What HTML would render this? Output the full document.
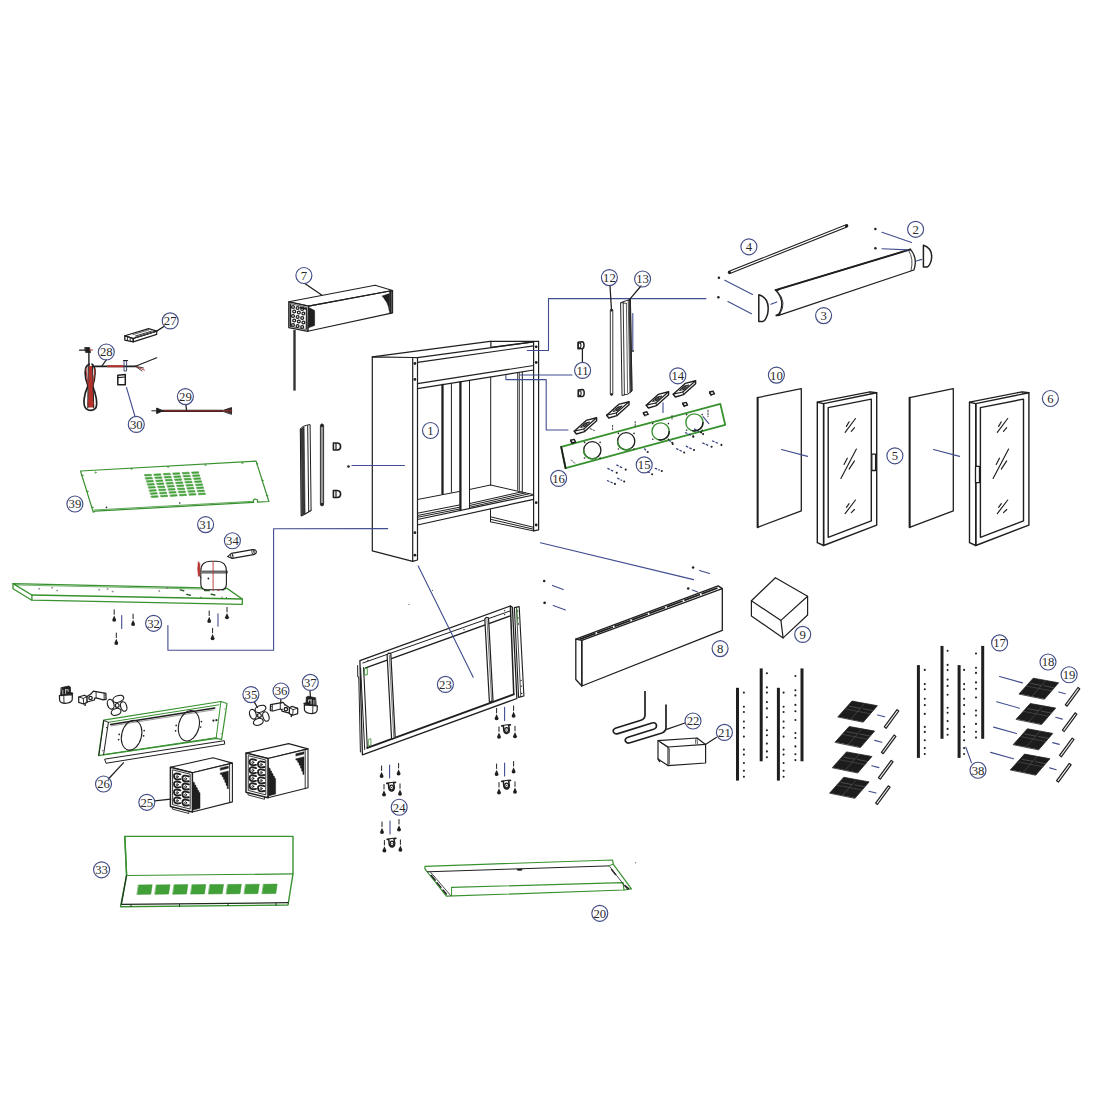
<!DOCTYPE html>
<html><head><meta charset="utf-8"><title>Exploded parts diagram</title>
<style>
html,body{margin:0;padding:0;background:#fff;}
body{width:1100px;height:1100px;overflow:hidden;font-family:"Liberation Serif",serif;}
svg{display:block;font-family:"Liberation Serif",serif;}
</style></head><body>
<svg width="1100" height="1100" viewBox="0 0 1100 1100" stroke-linecap="round" stroke-linejoin="round">
<rect width="1100" height="1100" fill="#fff"/>
<g id="cabinet">
<path d="M372.3 356.8 L412.7 357.5 L412.7 561.4 L372.3 550.9 Z" stroke="#1f1f1f" stroke-width="1.2" fill="none" />
<path d="M412.7 357.5 L417.5 357.7 L417.5 560.0 L412.7 561.4" stroke="#1f1f1f" stroke-width="1.2" fill="none" />
<path d="M372.3 356.8 L490.0 341.4 L538.6 341.4" stroke="#1f1f1f" stroke-width="1.2" fill="none" />
<line x1="417.5" y1="357.7" x2="533.6" y2="341.8" stroke="#1f1f1f" stroke-width="1.2" />
<line x1="490.9" y1="341.4" x2="490.9" y2="347.3" stroke="#1f1f1f" stroke-width="1.2" />
<line x1="490.9" y1="347.3" x2="533.6" y2="341.8" stroke="#1f1f1f" stroke-width="1.2" />
<line x1="417.5" y1="362.3" x2="533.6" y2="345.9" stroke="#1f1f1f" stroke-width="1.2" />
<line x1="417.5" y1="383.6" x2="533.6" y2="365.5" stroke="#1f1f1f" stroke-width="1.2" />
<line x1="417.5" y1="388.6" x2="533.6" y2="370.0" stroke="#1f1f1f" stroke-width="1.2" />
<path d="M533.6 341.4 L533.6 530.9 L538.6 529.8 L538.6 341.4" stroke="#1f1f1f" stroke-width="1.2" fill="none" />
<circle cx="414.9" cy="363.5" r="1.4" fill="#1f1f1f"/>
<circle cx="414.9" cy="379.4" r="1.4" fill="#1f1f1f"/>
<circle cx="414.9" cy="532.7" r="1.4" fill="#1f1f1f"/>
<circle cx="414.9" cy="555.2" r="1.4" fill="#1f1f1f"/>
<circle cx="536.2" cy="346.8" r="1.4" fill="#1f1f1f"/>
<circle cx="536.2" cy="362.5" r="1.4" fill="#1f1f1f"/>
<circle cx="536.2" cy="502.7" r="1.4" fill="#1f1f1f"/>
<circle cx="536.2" cy="525.0" r="1.4" fill="#1f1f1f"/>
<line x1="442.5" y1="385.0" x2="442.5" y2="494.0" stroke="#1f1f1f" stroke-width="2.3" />
<line x1="451.4" y1="383.6" x2="451.4" y2="492.3" stroke="#1f1f1f" stroke-width="1.0" />
<line x1="460.4" y1="382.2" x2="460.4" y2="510.0" stroke="#1f1f1f" stroke-width="2.3" />
<line x1="469.5" y1="380.8" x2="469.5" y2="508.5" stroke="#1f1f1f" stroke-width="1.0" />
<line x1="490.7" y1="377.0" x2="490.7" y2="485.0" stroke="#1f1f1f" stroke-width="1.0" />
<line x1="517.7" y1="373.0" x2="517.7" y2="490.0" stroke="#1f1f1f" stroke-width="0.9" />
<line x1="519.3" y1="372.8" x2="519.3" y2="490.5" stroke="#1f1f1f" stroke-width="0.9" />
<line x1="522.3" y1="372.3" x2="522.3" y2="492.0" stroke="#1f1f1f" stroke-width="1.0" />
<line x1="417.5" y1="499.5" x2="441.5" y2="494.9" stroke="#1f1f1f" stroke-width="1.0" />
<line x1="443.5" y1="494.5" x2="459.3" y2="491.5" stroke="#1f1f1f" stroke-width="1.0" />
<line x1="469.5" y1="489.5" x2="490.5" y2="485.0" stroke="#1f1f1f" stroke-width="1.0" />
<path d="M490.5 485.0 L522.7 492.3 L533.2 494.5" stroke="#1f1f1f" stroke-width="1.0" fill="none" />
<line x1="417.5" y1="513.2" x2="459.3" y2="505.0" stroke="#1f1f1f" stroke-width="1.0" />
<line x1="417.5" y1="515.5" x2="459.3" y2="507.3" stroke="#1f1f1f" stroke-width="1.0" />
<line x1="417.5" y1="517.3" x2="459.3" y2="509.1" stroke="#1f1f1f" stroke-width="1.0" />
<line x1="469.5" y1="503.6" x2="521.8" y2="491.8" stroke="#1f1f1f" stroke-width="1.0" />
<line x1="469.5" y1="505.5" x2="525.5" y2="492.8" stroke="#1f1f1f" stroke-width="1.0" />
<line x1="469.5" y1="507.3" x2="529.0" y2="493.8" stroke="#1f1f1f" stroke-width="1.0" />
<line x1="417.5" y1="519.5" x2="533.6" y2="495.0" stroke="#1f1f1f" stroke-width="1.2" />
<line x1="417.5" y1="525.0" x2="533.6" y2="499.3" stroke="#1f1f1f" stroke-width="1.2" />
<line x1="490.5" y1="509.3" x2="490.5" y2="521.8" stroke="#1f1f1f" stroke-width="1.0" />
<line x1="490.5" y1="516.8" x2="533.6" y2="527.3" stroke="#1f1f1f" stroke-width="1.0" />
<line x1="490.5" y1="519.3" x2="533.6" y2="529.2" stroke="#1f1f1f" stroke-width="1.0" />
<line x1="490.5" y1="521.8" x2="533.6" y2="530.9" stroke="#1f1f1f" stroke-width="1.0" />
</g>
<circle cx="430.5" cy="430.5" r="8.0" fill="none" stroke="#434c84" stroke-width="1.15"/>
<text transform="translate(430.5 434.9) scale(0.95 1)" x="0" y="0" text-anchor="middle" font-size="13.4" fill="#2a2a2a">1</text>
<g id="p7">
<path d="M288.8 301.8 L375.1 285.2 L392.6 290.5 L308.5 306.1 Z" stroke="#1f1f1f" stroke-width="1.1" fill="none" />
<path d="M308.5 306.1 L392.6 290.5 L392.6 312.9 L307.8 331.3 Z" stroke="#1f1f1f" stroke-width="1.1" fill="none" />
<path d="M288.8 301.8 L308.5 306.1 L307.8 331.3 L288.8 327.6 Z" stroke="#1f1f1f" stroke-width="1.3" fill="#fff" />
<line x1="389.8" y1="291.1" x2="389.8" y2="313.4" stroke="#1f1f1f" stroke-width="1.0" />
<path d="M308.8 307.6 L314.6 310.6 L314.6 325.4 L308.4 327.8 Z" stroke="#1f1f1f" stroke-width="0.6" fill="#1f1f1f" />
<path d="M382.2 296.0 L389.4 293.6 L389.4 311.0 L388.2 306.0 L386.8 302.6 L385.0 300.0 L383.6 297.8 Z" stroke="#1f1f1f" stroke-width="0.5" fill="#1f1f1f" />
<line x1="390.9" y1="291.2" x2="390.9" y2="313.0" stroke="#1f1f1f" stroke-width="1.7" />
<path d="M290.3 303.6 L306.9 307.3 L306.4 329.6 L290.3 326.4 Z" stroke="#1f1f1f" stroke-width="0.7" fill="none" />
<circle cx="293.0" cy="307.0" r="1.45" fill="none" stroke="#1f1f1f" stroke-width="1.25"/>
<circle cx="297.6" cy="308.0" r="1.45" fill="none" stroke="#1f1f1f" stroke-width="1.25"/>
<circle cx="302.2" cy="309.0" r="1.45" fill="none" stroke="#1f1f1f" stroke-width="1.25"/>
<circle cx="294.2" cy="311.5" r="1.45" fill="none" stroke="#1f1f1f" stroke-width="1.25"/>
<circle cx="298.8" cy="312.5" r="1.45" fill="none" stroke="#1f1f1f" stroke-width="1.25"/>
<circle cx="303.4" cy="313.5" r="1.45" fill="none" stroke="#1f1f1f" stroke-width="1.25"/>
<circle cx="293.0" cy="316.0" r="1.45" fill="none" stroke="#1f1f1f" stroke-width="1.25"/>
<circle cx="297.6" cy="317.0" r="1.45" fill="none" stroke="#1f1f1f" stroke-width="1.25"/>
<circle cx="302.2" cy="318.0" r="1.45" fill="none" stroke="#1f1f1f" stroke-width="1.25"/>
<circle cx="294.2" cy="320.5" r="1.45" fill="none" stroke="#1f1f1f" stroke-width="1.25"/>
<circle cx="298.8" cy="321.5" r="1.45" fill="none" stroke="#1f1f1f" stroke-width="1.25"/>
<circle cx="303.4" cy="322.5" r="1.45" fill="none" stroke="#1f1f1f" stroke-width="1.25"/>
<circle cx="293.0" cy="325.0" r="1.45" fill="none" stroke="#1f1f1f" stroke-width="1.25"/>
<circle cx="297.6" cy="326.0" r="1.45" fill="none" stroke="#1f1f1f" stroke-width="1.25"/>
<circle cx="302.2" cy="327.0" r="1.45" fill="none" stroke="#1f1f1f" stroke-width="1.25"/>
<line x1="300.5" y1="307.6" x2="305.8" y2="308.8" stroke="#1f1f1f" stroke-width="2.0" />
<line x1="290.6" y1="304.4" x2="290.6" y2="326.2" stroke="#1f1f1f" stroke-width="1.2" />
<line x1="306.4" y1="308.2" x2="306.2" y2="329.0" stroke="#1f1f1f" stroke-width="1.0" />
<line x1="294.5" y1="330.0" x2="294.5" y2="390.6" stroke="#333" stroke-width="2.4" stroke-linecap="butt"/>
<line x1="304.8" y1="283.6" x2="321.7" y2="295.1" stroke="#1f1f1f" stroke-width="1.25" />
</g>
<circle cx="303.9" cy="275.5" r="8.0" fill="none" stroke="#434c84" stroke-width="1.15"/>
<text transform="translate(303.9 279.9) scale(0.95 1)" x="0" y="0" text-anchor="middle" font-size="13.4" fill="#2a2a2a">7</text>
<path d="M124.8 335.7 L148.6 328.6 L156.7 331.1 L133.2 338.5 Z" stroke="#1f1f1f" stroke-width="1.2" fill="none" />
<path d="M124.8 335.7 L133.2 338.5 L133.2 341.9 L124.8 340.1 Z" stroke="#1f1f1f" stroke-width="1.3" fill="none" />
<line x1="127.4" y1="337.0" x2="127.4" y2="340.4" stroke="#1f1f1f" stroke-width="0.9" />
<line x1="130.2" y1="338.0" x2="130.2" y2="341.0" stroke="#1f1f1f" stroke-width="0.9" />
<path d="M133.2 338.5 L156.7 331.1 L156.7 334.4 L133.2 341.9 Z" stroke="#1f1f1f" stroke-width="1.2" fill="none" />
<line x1="135.5" y1="336.0" x2="151.5" y2="331.2" stroke="#1f1f1f" stroke-width="0.9" />
<line x1="136.5" y1="337.0" x2="153.5" y2="332.0" stroke="#444" stroke-width="1.3" />
<line x1="133.0" y1="334.6" x2="148.6" y2="330.0" stroke="#1f1f1f" stroke-width="0.7" />
<line x1="164.3" y1="326.2" x2="156.7" y2="331.1" stroke="#1f1f1f" stroke-width="1.25" />
<circle cx="170.2" cy="320.9" r="8.0" fill="none" stroke="#434c84" stroke-width="1.15"/>
<text transform="translate(170.2 325.3) scale(0.95 1)" x="0" y="0" text-anchor="middle" font-size="13.4" fill="#2a2a2a">27</text>
<g id="p28">
<line x1="79.5" y1="350.2" x2="86.0" y2="350.2" stroke="#1f1f1f" stroke-width="1.2" />
<path d="M85.0 347.5 L89.5 347.5 L90.5 352.5 L86.0 352.5 Z" stroke="#1f1f1f" stroke-width="0.8" fill="#1f1f1f" />
<line x1="89.5" y1="350.0" x2="92.5" y2="350.0" stroke="#b5322c" stroke-width="1.0" />
<line x1="88.9" y1="352.5" x2="88.9" y2="365.5" stroke="#1f1f1f" stroke-width="1.4" />
<path d="M88.4 366 L92.3 366 L92.9 386 L94.0 407.4 L88.0 407.4 L88.3 386 Z" fill="#b5322c" stroke="none"/>
<path d="M89.2 364.2 C83.4 366 84.6 378 88.0 386 C84.0 394 82.4 405 86.0 408.6 C89.0 411 93.2 411 95.6 408.2 C98.2 404 95.6 393 92.6 386 C95.2 378 96.6 367 92.0 364.2" stroke="#1f1f1f" stroke-width="1.7" fill="none"/>
<path d="M88.2 366 L87.8 408 M92.5 366 L93.8 408" stroke="#1f1f1f" stroke-width="1.0" fill="none"/>
<path d="M86.0 369 C86.6 380 89.6 392 93.6 404 M95.0 369 C94.4 380 91.0 392 87.6 404" stroke="#b5322c" stroke-width="1.0" fill="none"/>
<line x1="95.0" y1="366.3" x2="136.0" y2="366.3" stroke="#1f1f1f" stroke-width="1.7" />
<line x1="108.0" y1="366.3" x2="123.0" y2="366.3" stroke="#b5322c" stroke-width="1.9" />
<path d="M124.4 360.8 L126.6 360.8 L126.6 371.0 L124.4 371.0 Z" stroke="#2b3560" stroke-width="0.9" fill="none" />
<line x1="123.5" y1="360.5" x2="127.5" y2="360.5" stroke="#1f1f1f" stroke-width="1.2" />
<line x1="135.5" y1="366.3" x2="156.7" y2="357.8" stroke="#1f1f1f" stroke-width="1.2" />
<line x1="135.5" y1="366.3" x2="143.5" y2="368.0" stroke="#1f1f1f" stroke-width="0.9" />
<line x1="135.5" y1="366.3" x2="144.5" y2="370.2" stroke="#b5322c" stroke-width="0.9" />
<line x1="135.5" y1="366.3" x2="142.0" y2="371.0" stroke="#1f1f1f" stroke-width="0.8" />
<line x1="106.3" y1="359.9" x2="101.9" y2="366.0" stroke="#1f1f1f" stroke-width="1.25" />
</g>
<circle cx="106.3" cy="352.0" r="8.0" fill="none" stroke="#434c84" stroke-width="1.15"/>
<text transform="translate(106.3 356.4) scale(0.95 1)" x="0" y="0" text-anchor="middle" font-size="13.4" fill="#2a2a2a">28</text>
<path d="M117.8 375.2 L125.3 374.5 L125.3 384.8 L117.8 384.8 Z" stroke="#1f1f1f" stroke-width="1.5" fill="none" />
<line x1="118.0" y1="377.6" x2="125.2" y2="377.0" stroke="#1f1f1f" stroke-width="1.1" />
<line x1="126.5" y1="387.6" x2="135.0" y2="416.5" stroke="#414d8e" stroke-width="1.1" />
<circle cx="136.3" cy="424.4" r="8.0" fill="none" stroke="#434c84" stroke-width="1.15"/>
<text transform="translate(136.3 428.8) scale(0.95 1)" x="0" y="0" text-anchor="middle" font-size="13.4" fill="#2a2a2a">30</text>
<line x1="151.8" y1="410.8" x2="158.0" y2="410.8" stroke="#1f1f1f" stroke-width="1.0" />
<path d="M157.0 408.2 L163.0 410.8 L157.0 413.4 Z" stroke="#1f1f1f" stroke-width="1.0" fill="#1f1f1f" />
<line x1="162.5" y1="410.8" x2="222.0" y2="410.8" stroke="#1f1f1f" stroke-width="2.2" />
<line x1="164.0" y1="410.8" x2="221.0" y2="410.8" stroke="#b5322c" stroke-width="0.9" />
<path d="M222.0 410.8 L231.5 407.6 L231.5 414.0 Z" stroke="#1f1f1f" stroke-width="0.9" fill="#4a2a2a" />
<line x1="222.0" y1="410.8" x2="232.0" y2="410.8" stroke="#b5322c" stroke-width="0.7" />
<line x1="185.9" y1="404.6" x2="186.5" y2="410.0" stroke="#1f1f1f" stroke-width="1.25" />
<circle cx="185.4" cy="396.6" r="8.0" fill="none" stroke="#434c84" stroke-width="1.15"/>
<text transform="translate(185.4 401.0) scale(0.95 1)" x="0" y="0" text-anchor="middle" font-size="13.4" fill="#2a2a2a">29</text>
<g id="p39">
<path d="M80.5 471.0 L256.1 461.1 L268.9 501.5 L257.6 502.1 L257.6 500.0 L255.0 499.0 L253.4 500.3 L253.6 502.4 L95.0 511.2 L93.3 512.2 Z" stroke="#38912f" stroke-width="1.2" fill="none" />
<path d="M94.0 510.0 L253.0 501.3" stroke="#38912f" stroke-width="0.8" fill="none" />
<path d="M144.6 474.6 l6.6 -0.37 l0.45 1.5 l-6.6 0.37 Z" fill="#45a83b" stroke="#38912f" stroke-width="0.5"/>
<path d="M154.0 474.1 l6.6 -0.37 l0.45 1.5 l-6.6 0.37 Z" fill="#45a83b" stroke="#38912f" stroke-width="0.5"/>
<path d="M163.5 473.5 l6.6 -0.37 l0.45 1.5 l-6.6 0.37 Z" fill="#45a83b" stroke="#38912f" stroke-width="0.5"/>
<path d="M172.9 473.0 l6.6 -0.37 l0.45 1.5 l-6.6 0.37 Z" fill="#45a83b" stroke="#38912f" stroke-width="0.5"/>
<path d="M182.4 472.5 l6.6 -0.37 l0.45 1.5 l-6.6 0.37 Z" fill="#45a83b" stroke="#38912f" stroke-width="0.5"/>
<path d="M191.8 472.0 l6.6 -0.37 l0.45 1.5 l-6.6 0.37 Z" fill="#45a83b" stroke="#38912f" stroke-width="0.5"/>
<path d="M145.5 477.7 l6.6 -0.37 l0.45 1.5 l-6.6 0.37 Z" fill="#45a83b" stroke="#38912f" stroke-width="0.5"/>
<path d="M155.0 477.1 l6.6 -0.37 l0.45 1.5 l-6.6 0.37 Z" fill="#45a83b" stroke="#38912f" stroke-width="0.5"/>
<path d="M164.4 476.6 l6.6 -0.37 l0.45 1.5 l-6.6 0.37 Z" fill="#45a83b" stroke="#38912f" stroke-width="0.5"/>
<path d="M173.9 476.1 l6.6 -0.37 l0.45 1.5 l-6.6 0.37 Z" fill="#45a83b" stroke="#38912f" stroke-width="0.5"/>
<path d="M183.3 475.5 l6.6 -0.37 l0.45 1.5 l-6.6 0.37 Z" fill="#45a83b" stroke="#38912f" stroke-width="0.5"/>
<path d="M192.8 475.0 l6.6 -0.37 l0.45 1.5 l-6.6 0.37 Z" fill="#45a83b" stroke="#38912f" stroke-width="0.5"/>
<path d="M146.5 480.7 l6.6 -0.37 l0.45 1.5 l-6.6 0.37 Z" fill="#45a83b" stroke="#38912f" stroke-width="0.5"/>
<path d="M155.9 480.2 l6.6 -0.37 l0.45 1.5 l-6.6 0.37 Z" fill="#45a83b" stroke="#38912f" stroke-width="0.5"/>
<path d="M165.4 479.6 l6.6 -0.37 l0.45 1.5 l-6.6 0.37 Z" fill="#45a83b" stroke="#38912f" stroke-width="0.5"/>
<path d="M174.8 479.1 l6.6 -0.37 l0.45 1.5 l-6.6 0.37 Z" fill="#45a83b" stroke="#38912f" stroke-width="0.5"/>
<path d="M184.3 478.6 l6.6 -0.37 l0.45 1.5 l-6.6 0.37 Z" fill="#45a83b" stroke="#38912f" stroke-width="0.5"/>
<path d="M193.8 478.1 l6.6 -0.37 l0.45 1.5 l-6.6 0.37 Z" fill="#45a83b" stroke="#38912f" stroke-width="0.5"/>
<path d="M147.4 483.8 l6.6 -0.37 l0.45 1.5 l-6.6 0.37 Z" fill="#45a83b" stroke="#38912f" stroke-width="0.5"/>
<path d="M156.9 483.2 l6.6 -0.37 l0.45 1.5 l-6.6 0.37 Z" fill="#45a83b" stroke="#38912f" stroke-width="0.5"/>
<path d="M166.3 482.7 l6.6 -0.37 l0.45 1.5 l-6.6 0.37 Z" fill="#45a83b" stroke="#38912f" stroke-width="0.5"/>
<path d="M175.8 482.2 l6.6 -0.37 l0.45 1.5 l-6.6 0.37 Z" fill="#45a83b" stroke="#38912f" stroke-width="0.5"/>
<path d="M185.2 481.6 l6.6 -0.37 l0.45 1.5 l-6.6 0.37 Z" fill="#45a83b" stroke="#38912f" stroke-width="0.5"/>
<path d="M194.7 481.1 l6.6 -0.37 l0.45 1.5 l-6.6 0.37 Z" fill="#45a83b" stroke="#38912f" stroke-width="0.5"/>
<path d="M148.4 486.8 l6.6 -0.37 l0.45 1.5 l-6.6 0.37 Z" fill="#45a83b" stroke="#38912f" stroke-width="0.5"/>
<path d="M157.8 486.3 l6.6 -0.37 l0.45 1.5 l-6.6 0.37 Z" fill="#45a83b" stroke="#38912f" stroke-width="0.5"/>
<path d="M167.3 485.7 l6.6 -0.37 l0.45 1.5 l-6.6 0.37 Z" fill="#45a83b" stroke="#38912f" stroke-width="0.5"/>
<path d="M176.8 485.2 l6.6 -0.37 l0.45 1.5 l-6.6 0.37 Z" fill="#45a83b" stroke="#38912f" stroke-width="0.5"/>
<path d="M186.2 484.7 l6.6 -0.37 l0.45 1.5 l-6.6 0.37 Z" fill="#45a83b" stroke="#38912f" stroke-width="0.5"/>
<path d="M195.7 484.2 l6.6 -0.37 l0.45 1.5 l-6.6 0.37 Z" fill="#45a83b" stroke="#38912f" stroke-width="0.5"/>
<path d="M149.3 489.9 l6.6 -0.37 l0.45 1.5 l-6.6 0.37 Z" fill="#45a83b" stroke="#38912f" stroke-width="0.5"/>
<path d="M158.8 489.3 l6.6 -0.37 l0.45 1.5 l-6.6 0.37 Z" fill="#45a83b" stroke="#38912f" stroke-width="0.5"/>
<path d="M168.2 488.8 l6.6 -0.37 l0.45 1.5 l-6.6 0.37 Z" fill="#45a83b" stroke="#38912f" stroke-width="0.5"/>
<path d="M177.7 488.3 l6.6 -0.37 l0.45 1.5 l-6.6 0.37 Z" fill="#45a83b" stroke="#38912f" stroke-width="0.5"/>
<path d="M187.1 487.7 l6.6 -0.37 l0.45 1.5 l-6.6 0.37 Z" fill="#45a83b" stroke="#38912f" stroke-width="0.5"/>
<path d="M196.6 487.2 l6.6 -0.37 l0.45 1.5 l-6.6 0.37 Z" fill="#45a83b" stroke="#38912f" stroke-width="0.5"/>
<path d="M150.3 492.9 l6.6 -0.37 l0.45 1.5 l-6.6 0.37 Z" fill="#45a83b" stroke="#38912f" stroke-width="0.5"/>
<path d="M159.7 492.4 l6.6 -0.37 l0.45 1.5 l-6.6 0.37 Z" fill="#45a83b" stroke="#38912f" stroke-width="0.5"/>
<path d="M169.2 491.8 l6.6 -0.37 l0.45 1.5 l-6.6 0.37 Z" fill="#45a83b" stroke="#38912f" stroke-width="0.5"/>
<path d="M178.6 491.3 l6.6 -0.37 l0.45 1.5 l-6.6 0.37 Z" fill="#45a83b" stroke="#38912f" stroke-width="0.5"/>
<path d="M188.1 490.8 l6.6 -0.37 l0.45 1.5 l-6.6 0.37 Z" fill="#45a83b" stroke="#38912f" stroke-width="0.5"/>
<path d="M197.5 490.3 l6.6 -0.37 l0.45 1.5 l-6.6 0.37 Z" fill="#45a83b" stroke="#38912f" stroke-width="0.5"/>
<path d="M151.2 496.0 l6.6 -0.37 l0.45 1.5 l-6.6 0.37 Z" fill="#45a83b" stroke="#38912f" stroke-width="0.5"/>
<path d="M160.7 495.4 l6.6 -0.37 l0.45 1.5 l-6.6 0.37 Z" fill="#45a83b" stroke="#38912f" stroke-width="0.5"/>
<path d="M170.2 494.9 l6.6 -0.37 l0.45 1.5 l-6.6 0.37 Z" fill="#45a83b" stroke="#38912f" stroke-width="0.5"/>
<path d="M179.6 494.4 l6.6 -0.37 l0.45 1.5 l-6.6 0.37 Z" fill="#45a83b" stroke="#38912f" stroke-width="0.5"/>
<path d="M189.0 493.8 l6.6 -0.37 l0.45 1.5 l-6.6 0.37 Z" fill="#45a83b" stroke="#38912f" stroke-width="0.5"/>
<path d="M198.5 493.3 l6.6 -0.37 l0.45 1.5 l-6.6 0.37 Z" fill="#45a83b" stroke="#38912f" stroke-width="0.5"/>
<circle cx="95.5" cy="472.5" r="0.7" fill="none" stroke="#38912f" stroke-width="0.6"/>
<circle cx="131.5" cy="468.8" r="0.7" fill="none" stroke="#38912f" stroke-width="0.6"/>
<circle cx="168.0" cy="466.9" r="0.7" fill="none" stroke="#38912f" stroke-width="0.6"/>
<circle cx="205.3" cy="465.0" r="0.7" fill="none" stroke="#38912f" stroke-width="0.6"/>
<circle cx="242.3" cy="463.0" r="0.7" fill="none" stroke="#38912f" stroke-width="0.6"/>
<circle cx="257.0" cy="463.8" r="0.7" fill="none" stroke="#38912f" stroke-width="0.6"/>
<circle cx="262.5" cy="480.5" r="0.7" fill="none" stroke="#38912f" stroke-width="0.6"/>
<circle cx="267.0" cy="495.5" r="0.7" fill="none" stroke="#38912f" stroke-width="0.6"/>
<circle cx="82.3" cy="475.5" r="0.7" fill="none" stroke="#38912f" stroke-width="0.6"/>
<circle cx="87.5" cy="491.5" r="0.7" fill="none" stroke="#38912f" stroke-width="0.6"/>
<circle cx="92.5" cy="507.5" r="0.7" fill="none" stroke="#38912f" stroke-width="0.6"/>
<circle cx="106.5" cy="507.4" r="0.8" fill="#1f1f1f"/>
<circle cx="179.7" cy="503.0" r="0.8" fill="#1f1f1f"/>
</g>
<circle cx="74.9" cy="504.0" r="8.0" fill="none" stroke="#434c84" stroke-width="1.15"/>
<text transform="translate(74.9 508.4) scale(0.95 1)" x="0" y="0" text-anchor="middle" font-size="13.4" fill="#2a2a2a">39</text>
<circle cx="205.6" cy="524.6" r="8.0" fill="none" stroke="#434c84" stroke-width="1.15"/>
<text transform="translate(205.6 529.0) scale(0.95 1)" x="0" y="0" text-anchor="middle" font-size="13.4" fill="#2a2a2a">31</text>
<g id="base">
<path d="M13.0 583.6 L227.0 588.4 L242.3 599.0 L31.9 595.0 Z" stroke="#38912f" stroke-width="1.3" fill="none" />
<path d="M31.9 595.0 L31.9 600.2 L242.3 604.4 L242.3 599.0" stroke="#38912f" stroke-width="1.3" fill="none" />
<path d="M13.0 583.6 L13.0 588.8 L31.9 600.2" stroke="#38912f" stroke-width="1.3" fill="none" />
<path d="M15.5 585.0 L225.5 589.6" stroke="#38912f" stroke-width="0.7" fill="none" />
<circle cx="39" cy="588.8" r="0.6" fill="none" stroke="#666" stroke-width="0.5"/>
<circle cx="52" cy="587.8" r="0.6" fill="none" stroke="#666" stroke-width="0.5"/>
<circle cx="57" cy="590.6" r="0.6" fill="none" stroke="#666" stroke-width="0.5"/>
<circle cx="99" cy="589.8" r="0.6" fill="none" stroke="#666" stroke-width="0.5"/>
<circle cx="107.5" cy="589.0" r="0.6" fill="none" stroke="#666" stroke-width="0.5"/>
<circle cx="112.5" cy="591.5" r="0.6" fill="none" stroke="#666" stroke-width="0.5"/>
<circle cx="159" cy="591.0" r="0.6" fill="none" stroke="#666" stroke-width="0.5"/>
<circle cx="167" cy="588.0" r="0.6" fill="none" stroke="#666" stroke-width="0.5"/>
<line x1="180.2" y1="589.9" x2="183.8" y2="590.7" stroke="#2a5a25" stroke-width="1.4" />
<line x1="186.7" y1="594.4" x2="190.3" y2="595.2" stroke="#2a5a25" stroke-width="1.4" />
<line x1="211.2" y1="594.2" x2="214.8" y2="595.0" stroke="#2a5a25" stroke-width="1.4" />
<circle cx="201.0" cy="597.2" r="0.6" fill="#2a5a25"/>
<circle cx="222.0" cy="597.2" r="0.6" fill="#2a5a25"/>
<circle cx="226.5" cy="597.5" r="0.6" fill="#2a5a25"/>
</g>
<line x1="114.2" y1="609.8" x2="114.2" y2="614.3" stroke="#1f1f1f" stroke-width="1.0" />
<path d="M114.2 615.5 L116.1 619.7 Q116.4 621.7 114.2 621.7 Q112.0 621.7 112.3 619.7 Z" fill="#1f1f1f"/>
<line x1="133.1" y1="614.1" x2="133.1" y2="618.6" stroke="#1f1f1f" stroke-width="1.0" />
<path d="M133.1 619.8 L135.0 624.0 Q135.3 626.0 133.1 626.0 Q130.9 626.0 131.2 624.0 Z" fill="#1f1f1f"/>
<line x1="116.3" y1="633.0" x2="116.3" y2="637.5" stroke="#1f1f1f" stroke-width="1.0" />
<path d="M116.3 638.7 L118.2 642.9 Q118.5 644.9 116.3 644.9 Q114.1 644.9 114.4 642.9 Z" fill="#1f1f1f"/>
<line x1="209.2" y1="611.0" x2="209.2" y2="615.5" stroke="#1f1f1f" stroke-width="1.0" />
<path d="M209.2 616.7 L211.1 620.9 Q211.4 622.9 209.2 622.9 Q207.0 622.9 207.3 620.9 Z" fill="#1f1f1f"/>
<line x1="227.0" y1="607.4" x2="227.0" y2="611.9" stroke="#1f1f1f" stroke-width="1.0" />
<path d="M227.0 613.1 L228.9 617.3 Q229.2 619.3 227.0 619.3 Q224.8 619.3 225.1 617.3 Z" fill="#1f1f1f"/>
<line x1="212.6" y1="628.3" x2="212.6" y2="632.8" stroke="#1f1f1f" stroke-width="1.0" />
<path d="M212.6 634.0 L214.5 638.2 Q214.8 640.2 212.6 640.2 Q210.4 640.2 210.7 638.2 Z" fill="#1f1f1f"/>
<line x1="121.7" y1="615.6" x2="121.7" y2="628.4" stroke="#414d8e" stroke-width="1.1" />
<line x1="218.0" y1="613.8" x2="218.0" y2="626.3" stroke="#414d8e" stroke-width="1.1" />
<circle cx="153.6" cy="623.3" r="8.0" fill="none" stroke="#434c84" stroke-width="1.15"/>
<text transform="translate(153.6 627.7) scale(0.95 1)" x="0" y="0" text-anchor="middle" font-size="13.4" fill="#2a2a2a">32</text>
<path d="M167.9 625.5 L167.9 650.2 L273.6 650.2 L273.6 528.7 L387.7 528.6" stroke="#414d8e" stroke-width="1.1" fill="none" />
<g id="comp">
<path d="M200.8 571 Q200.8 561.2 211 561.2 L216.5 561.2 Q226.4 561.2 226.4 571 L226.4 584 Q226.4 589.8 220 589.8 L207 589.8 Q200.8 589.8 200.8 584 Z" fill="#fff" stroke="#1f1f1f" stroke-width="1.1"/>
<line x1="201.8" y1="571.2" x2="227.0" y2="571.2" stroke="#1f1f1f" stroke-width="1.0" />
<line x1="201.8" y1="572.9" x2="227.0" y2="572.9" stroke="#1f1f1f" stroke-width="1.0" />
<line x1="227.0" y1="571.2" x2="227.0" y2="572.9" stroke="#1f1f1f" stroke-width="0.8" />
<line x1="213.1" y1="561.4" x2="213.1" y2="590.6" stroke="#b5322c" stroke-width="0.9" />
<path d="M198.2 561.8 Q197.0 569 198.4 576.6 L199.9 575.5 L199.9 563.5 Z" fill="#b5322c" stroke="#b5322c" stroke-width="0.5"/>
<line x1="199.6" y1="575.5" x2="201.0" y2="578.0" stroke="#1f1f1f" stroke-width="0.7" />
<circle cx="208.4" cy="578.5" r="0.9" fill="#1f1f1f"/>
<line x1="204.5" y1="590.6" x2="209.5" y2="590.6" stroke="#2a5a25" stroke-width="1.3" />
<line x1="217.5" y1="590.2" x2="219.5" y2="590.2" stroke="#b5322c" stroke-width="1.0" />
<line x1="222.0" y1="589.9" x2="223.5" y2="589.9" stroke="#1f1f1f" stroke-width="1.0" />
</g>
<path d="M227.6 556.6 L231.4 553.4 L252.6 549.6 Q256.0 549.4 256.4 551.6 Q256.6 553.8 253.4 554.6 L232.2 558.4 Z" fill="#fff" stroke="#1f1f1f" stroke-width="1.1"/>
<ellipse cx="231.8" cy="555.9" rx="1.1" ry="2.5" fill="none" stroke="#1f1f1f" stroke-width="0.8" transform="rotate(-10 231.8 555.9)"/>
<ellipse cx="253.0" cy="552.1" rx="1.1" ry="2.5" fill="none" stroke="#1f1f1f" stroke-width="0.8" transform="rotate(-10 253.0 552.1)"/>
<circle cx="232.4" cy="540.7" r="8.0" fill="none" stroke="#434c84" stroke-width="1.15"/>
<text transform="translate(232.4 545.1) scale(0.95 1)" x="0" y="0" text-anchor="middle" font-size="13.4" fill="#2a2a2a">34</text>
<line x1="351.9" y1="465.5" x2="404.5" y2="465.5" stroke="#414d8e" stroke-width="1.1" />
<circle cx="348.5" cy="466.5" r="1.3" fill="#1f1f1f"/>
<path d="M300.5 428.6 Q302.5 425.6 310.1 424.6 L311.1 510.7 L301.5 515.9 Z" fill="#fff" stroke="#1f1f1f" stroke-width="1.0"/>
<path d="M300.8 429.1 L304.1 427.1 L305.1 514.1 L301.8 515.6 Z" fill="#3a3a3a" stroke="#1f1f1f" stroke-width="0.6"/>
<line x1="307.7" y1="425.6" x2="308.7" y2="511.6" stroke="#1f1f1f" stroke-width="1.0" />
<line x1="305.1" y1="514.1" x2="311.1" y2="510.1" stroke="#1f1f1f" stroke-width="0.9" />
<rect x="320.4" y="424.2" width="3.2" height="81.6" rx="1.4" fill="#9a9a9a" stroke="#1f1f1f" stroke-width="0.9"/>
<rect x="320.6" y="424.3" width="2.8" height="2.6" rx="1" fill="#1f1f1f"/><rect x="320.6" y="503.0" width="2.8" height="2.6" rx="1" fill="#1f1f1f"/>
<path d="M333.4 443.0 L337.4 443.0 Q340.6 443.3 340.6 446.5 Q340.6 449.7 337.4 450.0 L333.4 450.0 Z" fill="#fff" stroke="#1f1f1f" stroke-width="1.6"/>
<line x1="336.0" y1="443.5" x2="336.0" y2="449.5" stroke="#1f1f1f" stroke-width="1.2" />
<path d="M333.4 490.5 L337.4 490.5 Q340.6 490.8 340.6 494.0 Q340.6 497.2 337.4 497.5 L333.4 497.5 Z" fill="#fff" stroke="#1f1f1f" stroke-width="1.6"/>
<line x1="336.0" y1="491.0" x2="336.0" y2="497.0" stroke="#1f1f1f" stroke-width="1.2" />
<path d="M61.4 687.6 L68.8 686.0 L70.4 687.0 L70.6 692.6 L73.0 693.0 L72.2 694.6 L60.8 695.8 Z" fill="#1f1f1f" stroke="#1f1f1f" stroke-width="0.8"/>
<path d="M62.8 690.1 l0 4 M65.6 689.4 l0 4.4 M65.6 690.0 l2.6 -0.4 l0 2" stroke="#fff" stroke-width="0.7" fill="none"/>
<path d="M59.4 695.6 L72.4 694.6 L72.2 700.1 Q70.8 703.2 65.3 703.4 Q60.2 703.4 59.6 700.2 Z" fill="#fff" stroke="#1f1f1f" stroke-width="1.2"/>
<line x1="63.8" y1="696.0" x2="64.0" y2="702.8" stroke="#1f1f1f" stroke-width="0.9" />
<path d="M78.7 697.0 L84.3 695.2 L87.1 696.6 L87.1 702.4 L83.7 704.0 L78.7 702.4 Z" stroke="#1f1f1f" stroke-width="1.2" fill="#fff" />
<path d="M78.7 697.0 L83.3 698.4 L87.1 696.6" stroke="#1f1f1f" stroke-width="0.9" fill="none" />
<line x1="83.3" y1="698.4" x2="83.7" y2="704.0" stroke="#1f1f1f" stroke-width="0.9" />
<path d="M87.1 696.4 L91.5 693.4 L94.5 694.6 L94.5 700.0 L87.1 702.0 Z" stroke="#1f1f1f" stroke-width="1.2" fill="#fff" />
<circle cx="90.5" cy="698.0" r="1.7" fill="#fff" stroke="#1f1f1f" stroke-width="1.3"/>
<path d="M91.5 693.4 L93.3 691.2 L105.9 693.4 L106.1 699.4 L103.3 699.8 L96.1 697.8 L94.5 698.4" stroke="#1f1f1f" stroke-width="1.2" fill="#fff" />
<line x1="96.1" y1="692.2" x2="96.1" y2="697.8" stroke="#1f1f1f" stroke-width="0.9" />
<line x1="104.1" y1="693.2" x2="104.1" y2="699.6" stroke="#1f1f1f" stroke-width="0.9" />
<circle cx="105.0" cy="695.2" r="0.5" fill="#1f1f1f"/>
<circle cx="105.0" cy="697.8" r="0.5" fill="#1f1f1f"/>
<line x1="85.1" y1="703.8" x2="85.1" y2="705.4" stroke="#1f1f1f" stroke-width="1.4" />
<ellipse cx="118.3" cy="698.9" rx="5.6" ry="3.3" fill="#fff" stroke="#1f1f1f" stroke-width="1.2" transform="rotate(-18 118.3 698.9)"/>
<ellipse cx="123.7" cy="706.5" rx="4.9" ry="3.0" fill="#fff" stroke="#1f1f1f" stroke-width="1.2" transform="rotate(72 123.7 706.5)"/>
<ellipse cx="116.1" cy="711.9" rx="5.0" ry="3.3" fill="#fff" stroke="#1f1f1f" stroke-width="1.2" transform="rotate(162 116.1 711.9)"/>
<ellipse cx="110.7" cy="704.3" rx="5.0" ry="3.2" fill="#fff" stroke="#1f1f1f" stroke-width="1.2" transform="rotate(252 110.7 704.3)"/>
<circle cx="117.2" cy="705.4" r="1.9" fill="#fff" stroke="#1f1f1f" stroke-width="1.2"/>
<ellipse cx="260.5" cy="708.9" rx="5.6" ry="3.3" fill="#fff" stroke="#1f1f1f" stroke-width="1.2" transform="rotate(-18 260.5 708.9)"/>
<ellipse cx="265.9" cy="716.5" rx="4.9" ry="3.0" fill="#fff" stroke="#1f1f1f" stroke-width="1.2" transform="rotate(72 265.9 716.5)"/>
<ellipse cx="258.3" cy="721.9" rx="5.0" ry="3.3" fill="#fff" stroke="#1f1f1f" stroke-width="1.2" transform="rotate(162 258.3 721.9)"/>
<ellipse cx="252.9" cy="714.3" rx="5.0" ry="3.2" fill="#fff" stroke="#1f1f1f" stroke-width="1.2" transform="rotate(252 252.9 714.3)"/>
<circle cx="259.4" cy="715.4" r="1.9" fill="#fff" stroke="#1f1f1f" stroke-width="1.2"/>
<g transform="translate(568.2,0) scale(-1,1)">
<path d="M270.5 708.2 L276.1 706.4 L278.9 707.8 L278.9 713.6 L275.5 715.2 L270.5 713.6 Z" stroke="#1f1f1f" stroke-width="1.2" fill="#fff" />
<path d="M270.5 708.2 L275.1 709.6 L278.9 707.8" stroke="#1f1f1f" stroke-width="0.9" fill="none" />
<line x1="275.1" y1="709.6" x2="275.5" y2="715.2" stroke="#1f1f1f" stroke-width="0.9" />
<path d="M278.9 707.6 L283.3 704.6 L286.3 705.8 L286.3 711.2 L278.9 713.2 Z" stroke="#1f1f1f" stroke-width="1.2" fill="#fff" />
<circle cx="282.3" cy="709.2" r="1.7" fill="#fff" stroke="#1f1f1f" stroke-width="1.3"/>
<path d="M283.3 704.6 L285.1 702.4 L297.7 704.6 L297.9 710.6 L295.1 711.0 L287.9 709.0 L286.3 709.6" stroke="#1f1f1f" stroke-width="1.2" fill="#fff" />
<line x1="287.9" y1="703.4" x2="287.9" y2="709.0" stroke="#1f1f1f" stroke-width="0.9" />
<line x1="295.9" y1="704.4" x2="295.9" y2="710.8" stroke="#1f1f1f" stroke-width="0.9" />
<circle cx="296.8" cy="706.4" r="0.5" fill="#1f1f1f"/>
<circle cx="296.8" cy="709.0" r="0.5" fill="#1f1f1f"/>
<line x1="276.9" y1="715.0" x2="276.9" y2="716.6" stroke="#1f1f1f" stroke-width="1.4" />
</g>
<g transform="translate(621.0,0) scale(-1,1)">
<path d="M305.7 697.8 L313.1 696.2 L314.7 697.2 L314.9 702.8 L317.3 703.2 L316.5 704.8 L305.1 706.0 Z" fill="#1f1f1f" stroke="#1f1f1f" stroke-width="0.8"/>
<path d="M307.1 700.3 l0 4 M309.9 699.6 l0 4.4 M309.9 700.2 l2.6 -0.4 l0 2" stroke="#fff" stroke-width="0.7" fill="none"/>
<path d="M303.7 705.8 L316.7 704.8 L316.5 710.3 Q315.1 713.4 309.6 713.6 Q304.5 713.6 303.9 710.4 Z" fill="#fff" stroke="#1f1f1f" stroke-width="1.2"/>
<line x1="308.1" y1="706.2" x2="308.3" y2="713.0" stroke="#1f1f1f" stroke-width="0.9" />
</g>
<line x1="254.5" y1="702.4" x2="257.5" y2="707.5" stroke="#1f1f1f" stroke-width="1.25" />
<line x1="280.8" y1="699.4" x2="280.8" y2="703.0" stroke="#1f1f1f" stroke-width="1.25" />
<line x1="310.0" y1="690.8" x2="310.4" y2="696.6" stroke="#1f1f1f" stroke-width="1.25" />
<circle cx="250.9" cy="694.6" r="8.0" fill="none" stroke="#434c84" stroke-width="1.15"/>
<text transform="translate(250.9 699.0) scale(0.95 1)" x="0" y="0" text-anchor="middle" font-size="13.4" fill="#2a2a2a">35</text>
<circle cx="281.0" cy="691.0" r="8.0" fill="none" stroke="#434c84" stroke-width="1.15"/>
<text transform="translate(281.0 695.4) scale(0.95 1)" x="0" y="0" text-anchor="middle" font-size="13.4" fill="#2a2a2a">36</text>
<circle cx="310.3" cy="682.4" r="8.0" fill="none" stroke="#434c84" stroke-width="1.15"/>
<text transform="translate(310.3 686.8) scale(0.95 1)" x="0" y="0" text-anchor="middle" font-size="13.4" fill="#2a2a2a">37</text>
<g id="p26">
<path d="M103.6 720.2 L220.9 701.5 L227.0 703.5 L221.6 739.3 L216.1 738.4 L98.5 755.7 Z" stroke="#38912f" stroke-width="1.2" fill="none" />
<path d="M108.4 722.3 L218.9 704.8" stroke="#38912f" stroke-width="1.0" fill="none" />
<path d="M220.9 701.5 L216.1 738.4" stroke="#38912f" stroke-width="1.0" fill="none" />
<path d="M103.6 754.6 L216.6 737.6" stroke="#38912f" stroke-width="1.0" fill="none" />
<path d="M103.8 720.6 L98.9 755.2" stroke="#1f1f1f" stroke-width="1.0" fill="none" />
<path d="M108.4 722.3 L103.6 754.6" stroke="#1f1f1f" stroke-width="1.0" fill="none" />
<path d="M103.8 720.6 L108.4 722.3" stroke="#1f1f1f" stroke-width="0.9" fill="none" />
<circle cx="106.6" cy="727.6" r="0.6" fill="#1f1f1f"/>
<circle cx="102.8" cy="750.6" r="0.6" fill="#1f1f1f"/>
<circle cx="224.6" cy="709.0" r="0.5" fill="#38912f"/>
<circle cx="221.2" cy="733.6" r="0.5" fill="#38912f"/>
<line x1="110.6" y1="724.4" x2="214.8" y2="708.0" stroke="#1f1f1f" stroke-width="1.5" />
<line x1="111.0" y1="726.0" x2="214.0" y2="709.8" stroke="#555" stroke-width="0.6" />
<ellipse cx="131.6" cy="735.2" rx="9.9" ry="15.2" fill="none" stroke="#1f1f1f" stroke-width="1.1" transform="rotate(14 131.6 735.2)"/>
<ellipse cx="188.9" cy="725.7" rx="10.2" ry="15.5" fill="none" stroke="#1f1f1f" stroke-width="1.1" transform="rotate(14 188.9 725.7)"/>
<circle cx="119.2" cy="734.4" r="0.85" fill="#1f1f1f"/>
<circle cx="118.6" cy="739.6" r="0.85" fill="#1f1f1f"/>
<circle cx="144.2" cy="730.6" r="0.85" fill="#1f1f1f"/>
<circle cx="143.6" cy="735.8" r="0.85" fill="#1f1f1f"/>
<circle cx="176.2" cy="725.4" r="0.85" fill="#1f1f1f"/>
<circle cx="175.6" cy="730.8" r="0.85" fill="#1f1f1f"/>
<circle cx="201.4" cy="721.6" r="0.85" fill="#1f1f1f"/>
<circle cx="200.6" cy="727.0" r="0.85" fill="#1f1f1f"/>
<circle cx="213.4" cy="720.6" r="1.1" fill="#1f1f1f"/>
<circle cx="216.4" cy="720.2" r="1.1" fill="#1f1f1f"/>
<path d="M105.0 759.1 L224.3 740.7 L224.7 744.1 L106.4 763.2 Z" stroke="#1f1f1f" stroke-width="1.0" fill="#fff" />
<line x1="108.4" y1="779.0" x2="123.4" y2="762.8" stroke="#1f1f1f" stroke-width="1.25" />
</g>
<circle cx="103.5" cy="784.0" r="8.0" fill="none" stroke="#434c84" stroke-width="1.15"/>
<text transform="translate(103.5 788.4) scale(0.95 1)" x="0" y="0" text-anchor="middle" font-size="13.4" fill="#2a2a2a">26</text>
<path d="M170.4 767.3 L213.0 757.8 L232.4 763.1 L192.4 772.7 Z" stroke="#1f1f1f" stroke-width="1.1" fill="#fff" />
<path d="M192.4 772.7 L232.4 763.1 L232.4 801.9 L192.4 812.0 Z" stroke="#1f1f1f" stroke-width="1.1" fill="#fff" />
<path d="M170.4 767.3 L192.4 772.7 L192.4 812.0 L170.4 806.4 Z" stroke="#1f1f1f" stroke-width="1.5" fill="#fff" />
<path d="M173.0 769.9 L190.2 774.2 L190.2 809.1 L173.0 804.7 Z" stroke="#1f1f1f" stroke-width="0.9" fill="none" />
<path d="M180.4 774.3 Q173.6 771.9 174.0 776.5 Q174.4 780.5 180.4 779.1" fill="none" stroke="#1f1f1f" stroke-width="1.9"/>
<circle cx="177.2" cy="776.7" r="1.0" fill="none" stroke="#1f1f1f" stroke-width="0.9"/>
<path d="M188.8 776.4 Q182.0 774.0 182.4 778.6 Q182.8 782.6 188.8 781.2" fill="none" stroke="#1f1f1f" stroke-width="1.9"/>
<circle cx="185.6" cy="778.8" r="1.0" fill="none" stroke="#1f1f1f" stroke-width="0.9"/>
<path d="M180.4 782.3 Q173.6 779.9 174.0 784.5 Q174.4 788.5 180.4 787.1" fill="none" stroke="#1f1f1f" stroke-width="1.9"/>
<circle cx="177.2" cy="784.7" r="1.0" fill="none" stroke="#1f1f1f" stroke-width="0.9"/>
<path d="M188.8 784.4 Q182.0 782.0 182.4 786.6 Q182.8 790.6 188.8 789.2" fill="none" stroke="#1f1f1f" stroke-width="1.9"/>
<circle cx="185.6" cy="786.8" r="1.0" fill="none" stroke="#1f1f1f" stroke-width="0.9"/>
<path d="M180.4 790.3 Q173.6 787.9 174.0 792.5 Q174.4 796.5 180.4 795.1" fill="none" stroke="#1f1f1f" stroke-width="1.9"/>
<circle cx="177.2" cy="792.7" r="1.0" fill="none" stroke="#1f1f1f" stroke-width="0.9"/>
<path d="M188.8 792.4 Q182.0 790.0 182.4 794.6 Q182.8 798.6 188.8 797.2" fill="none" stroke="#1f1f1f" stroke-width="1.9"/>
<circle cx="185.6" cy="794.8" r="1.0" fill="none" stroke="#1f1f1f" stroke-width="0.9"/>
<path d="M180.4 798.3 Q173.6 795.9 174.0 800.5 Q174.4 804.5 180.4 803.1" fill="none" stroke="#1f1f1f" stroke-width="1.9"/>
<circle cx="177.2" cy="800.7" r="1.0" fill="none" stroke="#1f1f1f" stroke-width="0.9"/>
<path d="M188.8 800.4 Q182.0 798.0 182.4 802.6 Q182.8 806.6 188.8 805.2" fill="none" stroke="#1f1f1f" stroke-width="1.9"/>
<circle cx="185.6" cy="802.8" r="1.0" fill="none" stroke="#1f1f1f" stroke-width="0.9"/>
<path d="M172.4 807.1 L172.4 809.1 L188.9 813.5 L188.9 811.5" stroke="#1f1f1f" stroke-width="0.9" fill="none" />
<path d="M193.0 781.9 L194.6 782.7 L194.6 784.7 L196.0 785.3 L196.0 787.3 L197.4 787.9 L197.4 789.9 L198.8 790.5 L198.8 792.3 L200.0 792.7 L200.0 808.3 L193.0 810.1 Z" stroke="#1f1f1f" stroke-width="0.5" fill="#1f1f1f" />
<path d="M220.4 767.9 L228.4 765.9 L228.4 768.3 L220.4 770.3 Z" stroke="#1f1f1f" stroke-width="0.4" fill="#1f1f1f" />
<path d="M220.4 772.9 L228.4 770.9 L228.4 788.9 L227.2 788.5 L227.2 785.7 L226.0 785.3 L226.0 782.7 L224.8 782.3 L224.8 779.7 L223.4 779.3 L223.4 776.9 L222.0 776.5 L222.0 774.7 L220.4 774.3 Z" stroke="#1f1f1f" stroke-width="0.4" fill="#1f1f1f" />
<line x1="229.6" y1="763.9" x2="229.6" y2="802.6" stroke="#1f1f1f" stroke-width="0.9" />
<path d="M246.0 753.1 L288.6 743.6 L308.0 748.9 L268.0 758.5 Z" stroke="#1f1f1f" stroke-width="1.1" fill="#fff" />
<path d="M268.0 758.5 L308.0 748.9 L308.0 787.7 L268.0 797.8 Z" stroke="#1f1f1f" stroke-width="1.1" fill="#fff" />
<path d="M246.0 753.1 L268.0 758.5 L268.0 797.8 L246.0 792.2 Z" stroke="#1f1f1f" stroke-width="1.5" fill="#fff" />
<path d="M248.6 755.7 L265.8 760.0 L265.8 794.9 L248.6 790.5 Z" stroke="#1f1f1f" stroke-width="0.9" fill="none" />
<path d="M256.0 760.1 Q249.2 757.7 249.6 762.3 Q250.0 766.3 256.0 764.9" fill="none" stroke="#1f1f1f" stroke-width="1.9"/>
<circle cx="252.8" cy="762.5" r="1.0" fill="none" stroke="#1f1f1f" stroke-width="0.9"/>
<path d="M264.4 762.2 Q257.6 759.8 258.0 764.4 Q258.4 768.4 264.4 767.0" fill="none" stroke="#1f1f1f" stroke-width="1.9"/>
<circle cx="261.2" cy="764.6" r="1.0" fill="none" stroke="#1f1f1f" stroke-width="0.9"/>
<path d="M256.0 768.1 Q249.2 765.7 249.6 770.3 Q250.0 774.3 256.0 772.9" fill="none" stroke="#1f1f1f" stroke-width="1.9"/>
<circle cx="252.8" cy="770.5" r="1.0" fill="none" stroke="#1f1f1f" stroke-width="0.9"/>
<path d="M264.4 770.2 Q257.6 767.8 258.0 772.4 Q258.4 776.4 264.4 775.0" fill="none" stroke="#1f1f1f" stroke-width="1.9"/>
<circle cx="261.2" cy="772.6" r="1.0" fill="none" stroke="#1f1f1f" stroke-width="0.9"/>
<path d="M256.0 776.1 Q249.2 773.7 249.6 778.3 Q250.0 782.3 256.0 780.9" fill="none" stroke="#1f1f1f" stroke-width="1.9"/>
<circle cx="252.8" cy="778.5" r="1.0" fill="none" stroke="#1f1f1f" stroke-width="0.9"/>
<path d="M264.4 778.2 Q257.6 775.8 258.0 780.4 Q258.4 784.4 264.4 783.0" fill="none" stroke="#1f1f1f" stroke-width="1.9"/>
<circle cx="261.2" cy="780.6" r="1.0" fill="none" stroke="#1f1f1f" stroke-width="0.9"/>
<path d="M256.0 784.1 Q249.2 781.7 249.6 786.3 Q250.0 790.3 256.0 788.9" fill="none" stroke="#1f1f1f" stroke-width="1.9"/>
<circle cx="252.8" cy="786.5" r="1.0" fill="none" stroke="#1f1f1f" stroke-width="0.9"/>
<path d="M264.4 786.2 Q257.6 783.8 258.0 788.4 Q258.4 792.4 264.4 791.0" fill="none" stroke="#1f1f1f" stroke-width="1.9"/>
<circle cx="261.2" cy="788.6" r="1.0" fill="none" stroke="#1f1f1f" stroke-width="0.9"/>
<path d="M248.0 792.9 L248.0 794.9 L264.5 799.3 L264.5 797.3" stroke="#1f1f1f" stroke-width="0.9" fill="none" />
<path d="M268.6 767.7 L270.2 768.5 L270.2 770.5 L271.6 771.1 L271.6 773.1 L273.0 773.7 L273.0 775.7 L274.4 776.3 L274.4 778.1 L275.6 778.5 L275.6 794.1 L268.6 795.9 Z" stroke="#1f1f1f" stroke-width="0.5" fill="#1f1f1f" />
<path d="M296.0 753.7 L304.0 751.7 L304.0 754.1 L296.0 756.1 Z" stroke="#1f1f1f" stroke-width="0.4" fill="#1f1f1f" />
<path d="M296.0 758.7 L304.0 756.7 L304.0 774.7 L302.8 774.3 L302.8 771.5 L301.6 771.1 L301.6 768.5 L300.4 768.1 L300.4 765.5 L299.0 765.1 L299.0 762.7 L297.6 762.3 L297.6 760.5 L296.0 760.1 Z" stroke="#1f1f1f" stroke-width="0.4" fill="#1f1f1f" />
<line x1="305.2" y1="749.7" x2="305.2" y2="788.4" stroke="#1f1f1f" stroke-width="0.9" />
<line x1="154.8" y1="800.9" x2="170.6" y2="799.2" stroke="#1f1f1f" stroke-width="1.25" />
<circle cx="146.8" cy="802.3" r="8.0" fill="none" stroke="#434c84" stroke-width="1.15"/>
<text transform="translate(146.8 806.7) scale(0.95 1)" x="0" y="0" text-anchor="middle" font-size="13.4" fill="#2a2a2a">25</text>
<g id="p33">
<path d="M124.8 836.4 L293.0 836.4 L293.0 873.9 L288.0 905.0 L120.5 906.8 L126.6 875.5 Z" stroke="#38912f" stroke-width="1.4" fill="none" />
<line x1="124.8" y1="836.4" x2="126.6" y2="875.5" stroke="#38912f" stroke-width="1.4" />
<line x1="126.6" y1="875.5" x2="293.0" y2="873.9" stroke="#38912f" stroke-width="1.2" />
<line x1="126.4" y1="876.0" x2="121.4" y2="904.2" stroke="#1f3a1c" stroke-width="1.3" />
<line x1="121.4" y1="904.4" x2="288.2" y2="902.7" stroke="#1f2a1c" stroke-width="1.2" />
<line x1="131.0" y1="904.5" x2="131.0" y2="906.6" stroke="#1f3a1c" stroke-width="1.0" />
<line x1="179.5" y1="904.0" x2="179.5" y2="906.2" stroke="#1f3a1c" stroke-width="1.0" />
<line x1="228.0" y1="903.5" x2="228.0" y2="905.6" stroke="#1f3a1c" stroke-width="1.0" />
<line x1="276.0" y1="903.0" x2="276.0" y2="905.2" stroke="#1f3a1c" stroke-width="1.0" />
<path d="M138.6 885.0 l13.6 -0.2 l-1.4 9.4 l-13.6 0.2 Z" fill="#41a038" stroke="#38912f" stroke-width="0.5"/>
<path d="M156.4 884.9 l13.6 -0.2 l-1.4 9.4 l-13.6 0.2 Z" fill="#41a038" stroke="#38912f" stroke-width="0.5"/>
<path d="M174.3 884.8 l13.6 -0.2 l-1.4 9.4 l-13.6 0.2 Z" fill="#41a038" stroke="#38912f" stroke-width="0.5"/>
<path d="M192.2 884.7 l13.6 -0.2 l-1.4 9.4 l-13.6 0.2 Z" fill="#41a038" stroke="#38912f" stroke-width="0.5"/>
<path d="M210.0 884.6 l13.6 -0.2 l-1.4 9.4 l-13.6 0.2 Z" fill="#41a038" stroke="#38912f" stroke-width="0.5"/>
<path d="M227.8 884.5 l13.6 -0.2 l-1.4 9.4 l-13.6 0.2 Z" fill="#41a038" stroke="#38912f" stroke-width="0.5"/>
<path d="M245.7 884.4 l13.6 -0.2 l-1.4 9.4 l-13.6 0.2 Z" fill="#41a038" stroke="#38912f" stroke-width="0.5"/>
<path d="M263.6 884.3 l13.6 -0.2 l-1.4 9.4 l-13.6 0.2 Z" fill="#41a038" stroke="#38912f" stroke-width="0.5"/>
</g>
<circle cx="101.6" cy="869.8" r="8.0" fill="none" stroke="#434c84" stroke-width="1.15"/>
<text transform="translate(101.6 874.2) scale(0.95 1)" x="0" y="0" text-anchor="middle" font-size="13.4" fill="#2a2a2a">33</text>
<g id="p23">
<path d="M359.9 660.6 L510.4 606.0 L512.4 607.2 L516.9 698.5 L362.4 754.9 Z" stroke="#1f1f1f" stroke-width="1.3" fill="none" />
<line x1="362.8" y1="663.0" x2="510.0" y2="611.0" stroke="#1f1f1f" stroke-width="1.0" />
<line x1="365.6" y1="667.9" x2="510.4" y2="615.9" stroke="#1f1f1f" stroke-width="1.4" />
<line x1="360.6" y1="668.0" x2="364.7" y2="749.5" stroke="#1f1f1f" stroke-width="1.0" />
<line x1="363.6" y1="667.6" x2="367.3" y2="747.9" stroke="#1f1f1f" stroke-width="1.1" />
<line x1="510.4" y1="606.0" x2="513.8" y2="694.4" stroke="#1f1f1f" stroke-width="1.5" />
<path d="M514.4 607.6 L519.2 606.6 L523.9 696.0 L518.6 697.4 Z" stroke="#1f1f1f" stroke-width="1.1" fill="none" />
<line x1="516.4" y1="607.4" x2="520.8" y2="696.8" stroke="#1f1f1f" stroke-width="0.8" />
<circle cx="517.6" cy="611.0" r="0.7" fill="#1f1f1f"/>
<circle cx="518.0" cy="618.0" r="0.7" fill="#1f1f1f"/>
<circle cx="518.4" cy="624.0" r="0.7" fill="#1f1f1f"/>
<circle cx="521.0" cy="680.5" r="0.7" fill="#1f1f1f"/>
<circle cx="521.2" cy="686.2" r="0.7" fill="#1f1f1f"/>
<circle cx="521.6" cy="693.4" r="0.7" fill="#1f1f1f"/>
<path d="M517.0 609.2 L517.8 622.6" stroke="#38912f" stroke-width="0.8" fill="none" />
<path d="M357.6 665.6 L357.8 677.0 L358.8 677.0 L360.4 752.0" stroke="#1f1f1f" stroke-width="1.0" fill="none" />
<line x1="367.3" y1="747.9" x2="513.6" y2="694.4" stroke="#1f1f1f" stroke-width="2.0" />
<path d="M387.1 654.8 L388.6 653.2 L390.8 653.6 L395.2 737.7 L391.6 739.1 Z" stroke="#1f1f1f" stroke-width="1.2" fill="#fff" />
<line x1="389.3" y1="655.2" x2="393.8" y2="737.6" stroke="#1f1f1f" stroke-width="0.6" />
<path d="M484.8 619.0 L486.3 617.4 L488.5 617.8 L493.0 700.7 L489.4 702.1 Z" stroke="#1f1f1f" stroke-width="1.2" fill="#fff" />
<line x1="487.0" y1="619.4" x2="491.6" y2="700.6" stroke="#1f1f1f" stroke-width="0.6" />
<path d="M364.8 668.4 L367.2 668.0 L367.4 674.6 L365.0 675.0 Z" stroke="#38912f" stroke-width="0.9" fill="none" />
<path d="M368.6 739.4 L370.8 738.6 L371.0 745.0 L368.8 745.8 Z" stroke="#38912f" stroke-width="0.8" fill="none" />
<circle cx="368.0" cy="660.4" r="0.7" fill="#1f1f1f"/>
<circle cx="464.0" cy="629.6" r="0.7" fill="#1f1f1f"/>
<circle cx="504.6" cy="610.6" r="0.7" fill="#1f1f1f"/>
<circle cx="504.6" cy="614.6" r="0.7" fill="#1f1f1f"/>
</g>
<circle cx="445.4" cy="684.4" r="8.0" fill="none" stroke="#434c84" stroke-width="1.15"/>
<text transform="translate(445.4 688.8) scale(0.95 1)" x="0" y="0" text-anchor="middle" font-size="13.4" fill="#2a2a2a">23</text>
<line x1="418.2" y1="566.0" x2="473.2" y2="677.3" stroke="#414d8e" stroke-width="1.1" />
<circle cx="409.0" cy="604.4" r="0.5" fill="#1f1f1f"/>
<circle cx="432.6" cy="590.4" r="0.5" fill="#1f1f1f"/>
<path d="M501.8 725.8 L510.4 724.8" stroke="#1f1f1f" stroke-width="1.7" fill="none"/>
<path d="M503.4 725.8 L503.8 730.6 Q504.4 733.8 507.2 733.4 Q509.8 732.6 509.2 728.8 L508.6 725.2" stroke="#1f1f1f" stroke-width="1.5" fill="#fff"/>
<ellipse cx="506.6" cy="730.0" rx="1.9" ry="2.4" fill="#fff" stroke="#1f1f1f" stroke-width="1.3"/>
<circle cx="506.6" cy="730.0" r="0.6" fill="#1f1f1f"/>
<line x1="496.6" y1="708.4" x2="496.6" y2="712.9" stroke="#1f1f1f" stroke-width="1.0" />
<path d="M496.6 714.1 L498.5 718.3 Q498.8 720.3 496.6 720.3 Q494.4 720.3 494.7 718.3 Z" fill="#1f1f1f"/>
<line x1="513.6" y1="705.9" x2="513.6" y2="710.4" stroke="#1f1f1f" stroke-width="1.0" />
<path d="M513.6 711.6 L515.5 715.8 Q515.8 717.8 513.6 717.8 Q511.4 717.8 511.7 715.8 Z" fill="#1f1f1f"/>
<line x1="499.0" y1="726.9" x2="499.0" y2="731.4" stroke="#1f1f1f" stroke-width="1.0" />
<path d="M499.0 732.6 L500.9 736.8 Q501.2 738.8 499.0 738.8 Q496.8 738.8 497.1 736.8 Z" fill="#1f1f1f"/>
<line x1="515.0" y1="726.3" x2="515.0" y2="730.8" stroke="#1f1f1f" stroke-width="1.0" />
<path d="M515.0 732.0 L516.9 736.2 Q517.2 738.2 515.0 738.2 Q512.8 738.2 513.1 736.2 Z" fill="#1f1f1f"/>
<line x1="504.6" y1="707.4" x2="504.6" y2="720.4" stroke="#414d8e" stroke-width="1.1" />
<path d="M501.8 781.4 L510.4 780.4" stroke="#1f1f1f" stroke-width="1.7" fill="none"/>
<path d="M503.4 781.4 L503.8 786.2 Q504.4 789.4 507.2 789.0 Q509.8 788.2 509.2 784.4 L508.6 780.8" stroke="#1f1f1f" stroke-width="1.5" fill="#fff"/>
<ellipse cx="506.6" cy="785.6" rx="1.9" ry="2.4" fill="#fff" stroke="#1f1f1f" stroke-width="1.3"/>
<circle cx="506.6" cy="785.6" r="0.6" fill="#1f1f1f"/>
<line x1="496.6" y1="764.0" x2="496.6" y2="768.5" stroke="#1f1f1f" stroke-width="1.0" />
<path d="M496.6 769.7 L498.5 773.9 Q498.8 775.9 496.6 775.9 Q494.4 775.9 494.7 773.9 Z" fill="#1f1f1f"/>
<line x1="513.6" y1="761.5" x2="513.6" y2="766.0" stroke="#1f1f1f" stroke-width="1.0" />
<path d="M513.6 767.2 L515.5 771.4 Q515.8 773.4 513.6 773.4 Q511.4 773.4 511.7 771.4 Z" fill="#1f1f1f"/>
<line x1="499.0" y1="782.5" x2="499.0" y2="787.0" stroke="#1f1f1f" stroke-width="1.0" />
<path d="M499.0 788.2 L500.9 792.4 Q501.2 794.4 499.0 794.4 Q496.8 794.4 497.1 792.4 Z" fill="#1f1f1f"/>
<line x1="515.0" y1="781.9" x2="515.0" y2="786.4" stroke="#1f1f1f" stroke-width="1.0" />
<path d="M515.0 787.6 L516.9 791.8 Q517.2 793.8 515.0 793.8 Q512.8 793.8 513.1 791.8 Z" fill="#1f1f1f"/>
<line x1="504.6" y1="763.0" x2="504.6" y2="776.0" stroke="#414d8e" stroke-width="1.1" />
<path d="M386.8 783.4 L395.4 782.4" stroke="#1f1f1f" stroke-width="1.7" fill="none"/>
<path d="M388.4 783.4 L388.8 788.2 Q389.4 791.4 392.2 791.0 Q394.8 790.2 394.2 786.4 L393.6 782.8" stroke="#1f1f1f" stroke-width="1.5" fill="#fff"/>
<ellipse cx="391.6" cy="787.6" rx="1.9" ry="2.4" fill="#fff" stroke="#1f1f1f" stroke-width="1.3"/>
<circle cx="391.6" cy="787.6" r="0.6" fill="#1f1f1f"/>
<line x1="381.6" y1="766.0" x2="381.6" y2="770.5" stroke="#1f1f1f" stroke-width="1.0" />
<path d="M381.6 771.7 L383.5 775.9 Q383.8 777.9 381.6 777.9 Q379.4 777.9 379.7 775.9 Z" fill="#1f1f1f"/>
<line x1="398.6" y1="763.5" x2="398.6" y2="768.0" stroke="#1f1f1f" stroke-width="1.0" />
<path d="M398.6 769.2 L400.5 773.4 Q400.8 775.4 398.6 775.4 Q396.4 775.4 396.7 773.4 Z" fill="#1f1f1f"/>
<line x1="384.0" y1="784.5" x2="384.0" y2="789.0" stroke="#1f1f1f" stroke-width="1.0" />
<path d="M384.0 790.2 L385.9 794.4 Q386.2 796.4 384.0 796.4 Q381.8 796.4 382.1 794.4 Z" fill="#1f1f1f"/>
<line x1="400.0" y1="783.9" x2="400.0" y2="788.4" stroke="#1f1f1f" stroke-width="1.0" />
<path d="M400.0 789.6 L401.9 793.8 Q402.2 795.8 400.0 795.8 Q397.8 795.8 398.1 793.8 Z" fill="#1f1f1f"/>
<line x1="389.6" y1="765.0" x2="389.6" y2="778.0" stroke="#414d8e" stroke-width="1.1" />
<path d="M387.2 839.4 L395.8 838.4" stroke="#1f1f1f" stroke-width="1.7" fill="none"/>
<path d="M388.8 839.4 L389.2 844.2 Q389.8 847.4 392.6 847.0 Q395.2 846.2 394.6 842.4 L394.0 838.8" stroke="#1f1f1f" stroke-width="1.5" fill="#fff"/>
<ellipse cx="392.0" cy="843.6" rx="1.9" ry="2.4" fill="#fff" stroke="#1f1f1f" stroke-width="1.3"/>
<circle cx="392.0" cy="843.6" r="0.6" fill="#1f1f1f"/>
<line x1="382.0" y1="822.0" x2="382.0" y2="826.5" stroke="#1f1f1f" stroke-width="1.0" />
<path d="M382.0 827.7 L383.9 831.9 Q384.2 833.9 382.0 833.9 Q379.8 833.9 380.1 831.9 Z" fill="#1f1f1f"/>
<line x1="399.0" y1="819.5" x2="399.0" y2="824.0" stroke="#1f1f1f" stroke-width="1.0" />
<path d="M399.0 825.2 L400.9 829.4 Q401.2 831.4 399.0 831.4 Q396.8 831.4 397.1 829.4 Z" fill="#1f1f1f"/>
<line x1="384.4" y1="840.5" x2="384.4" y2="845.0" stroke="#1f1f1f" stroke-width="1.0" />
<path d="M384.4 846.2 L386.3 850.4 Q386.6 852.4 384.4 852.4 Q382.2 852.4 382.5 850.4 Z" fill="#1f1f1f"/>
<line x1="400.4" y1="839.9" x2="400.4" y2="844.4" stroke="#1f1f1f" stroke-width="1.0" />
<path d="M400.4 845.6 L402.3 849.8 Q402.6 851.8 400.4 851.8 Q398.2 851.8 398.5 849.8 Z" fill="#1f1f1f"/>
<line x1="390.0" y1="821.0" x2="390.0" y2="834.0" stroke="#414d8e" stroke-width="1.1" />
<circle cx="399.2" cy="807.2" r="8.0" fill="none" stroke="#434c84" stroke-width="1.15"/>
<text transform="translate(399.2 811.6) scale(0.95 1)" x="0" y="0" text-anchor="middle" font-size="13.4" fill="#2a2a2a">24</text>
<g id="p20">
<path d="M425.0 866.3 L612.6 860.0 L613.2 864.2 L631.4 888.9 L624.0 890.0 L446.4 896.2 L425.0 869.0 Z" stroke="#38912f" stroke-width="1.2" fill="none" />
<path d="M425.0 869.0 L427.5 871.8" stroke="#38912f" stroke-width="1.0" fill="none" />
<line x1="427.5" y1="871.8" x2="608.4" y2="865.9" stroke="#1f1f1f" stroke-width="1.0" />
<path d="M608.4 865.9 L613.2 864.2" stroke="#38912f" stroke-width="1.0" fill="none" />
<path d="M451.6 887.4 L623.0 882.6 L624.0 890.0" stroke="#38912f" stroke-width="1.2" fill="none" />
<path d="M451.6 887.4 L451.6 895.8" stroke="#38912f" stroke-width="1.0" fill="none" />
<path d="M430.6 872.2 L450.6 895.4" stroke="#1f1f1f" stroke-width="0.8" fill="none" />
<path d="M609.6 866.4 L627.6 889.6" stroke="#1f1f1f" stroke-width="0.8" fill="none" />
<path d="M431.2 875.2 L435.2 880.2" stroke="#1f1f1f" stroke-width="1.4" fill="none" />
<path d="M437.0 882.6 L441.0 887.4" stroke="#1f1f1f" stroke-width="1.4" fill="none" />
<path d="M443.0 890.0 L446.4 894.0" stroke="#1f1f1f" stroke-width="1.4" fill="none" />
<path d="M611.6 869.6 L615.6 874.6" stroke="#1f1f1f" stroke-width="1.4" fill="none" />
<path d="M625.0 885.6 L628.6 888.6" stroke="#1f1f1f" stroke-width="1.4" fill="none" />
<ellipse cx="519.6" cy="869.8" rx="3.0" ry="1.0" fill="#1f1f1f"/>
<circle cx="635.6" cy="862.8" r="0.5" fill="#1f1f1f"/>
</g>
<circle cx="599.8" cy="913.3" r="8.0" fill="none" stroke="#434c84" stroke-width="1.15"/>
<text transform="translate(599.8 917.7) scale(0.95 1)" x="0" y="0" text-anchor="middle" font-size="13.4" fill="#2a2a2a">20</text>
<path d="M527.3 350.5 L548.5 350.5 L548.5 298.6 L706.0 298.6" stroke="#414d8e" stroke-width="1.1" fill="none" />
<path d="M520.5 375.0 L572.0 375.0" stroke="#414d8e" stroke-width="1.1" fill="none" />
<path d="M505.9 375.5 L505.9 379.6 L546.2 379.6 L546.2 430.0 L568.0 430.0" stroke="#414d8e" stroke-width="1.1" fill="none" />
<line x1="540.4" y1="542.8" x2="693.6" y2="579.6" stroke="#414d8e" stroke-width="1.1" />
<path d="M578.0 342.2 L582.2 341.8 Q584.0 342.0 584.0 345.2 Q584.0 348.4 582.2 348.6 L578.0 348.8 Z" fill="#fff" stroke="#1f1f1f" stroke-width="1.5"/>
<ellipse cx="579.6" cy="345.5" rx="1.3" ry="2.6" fill="none" stroke="#1f1f1f" stroke-width="1.1"/>
<path d="M578.2 390.0 L582.4 389.6 Q584.2 389.8 584.2 393.0 Q584.2 396.2 582.4 396.4 L578.2 396.6 Z" fill="#fff" stroke="#1f1f1f" stroke-width="1.5"/>
<ellipse cx="579.8" cy="393.3" rx="1.3" ry="2.6" fill="none" stroke="#1f1f1f" stroke-width="1.1"/>
<line x1="582.4" y1="349.2" x2="582.4" y2="362.2" stroke="#1f1f1f" stroke-width="1.25" />
<circle cx="582.6" cy="370.4" r="8.0" fill="none" stroke="#434c84" stroke-width="1.15"/>
<text transform="translate(582.6 374.8) scale(0.95 1)" x="0" y="0" text-anchor="middle" font-size="13.4" fill="#2a2a2a">11</text>
<rect x="610.3" y="309.2" width="2.5" height="86.0" rx="1.1" fill="#fff" stroke="#1f1f1f" stroke-width="0.9"/>
<rect x="610.3" y="309.0" width="2.5" height="2.4" rx="1" fill="#1f1f1f"/><rect x="610.3" y="393.2" width="2.5" height="2.4" rx="1" fill="#1f1f1f"/>
<line x1="610.0" y1="285.8" x2="611.4" y2="308.6" stroke="#1f1f1f" stroke-width="1.25" />
<circle cx="609.4" cy="277.6" r="8.0" fill="none" stroke="#434c84" stroke-width="1.15"/>
<text transform="translate(609.4 282.0) scale(0.95 1)" x="0" y="0" text-anchor="middle" font-size="13.4" fill="#2a2a2a">12</text>
<path d="M621.0 302.6 L626.4 300.6 L630.4 299.6 L632.0 391.0 L628.0 394.0 L622.4 395.4 Z" fill="#fff" stroke="#1f1f1f" stroke-width="1.0"/>
<path d="M628.6 300.1 L630.4 299.6 L632.0 391.0 L630.2 392.4 Z" fill="#3a3a3a" stroke="#1f1f1f" stroke-width="0.7"/>
<line x1="623.2" y1="302.4" x2="624.4" y2="394.6" stroke="#1f1f1f" stroke-width="0.9" />
<line x1="621.0" y1="302.6" x2="626.4" y2="303.4" stroke="#1f1f1f" stroke-width="0.8" />
<line x1="626.4" y1="303.4" x2="627.6" y2="392.6" stroke="#1f1f1f" stroke-width="0.7" />
<line x1="641.0" y1="286.0" x2="629.4" y2="299.6" stroke="#1f1f1f" stroke-width="1.25" />
<circle cx="642.6" cy="279.0" r="8.0" fill="none" stroke="#434c84" stroke-width="1.15"/>
<text transform="translate(642.6 283.4) scale(0.95 1)" x="0" y="0" text-anchor="middle" font-size="13.4" fill="#2a2a2a">13</text>
<line x1="632.8" y1="313.5" x2="632.8" y2="350.0" stroke="#414d8e" stroke-width="1.1" />
<circle cx="633.0" cy="351.0" r="0.9" fill="#1f1f1f"/>
<g id="p16">
<path d="M561.2 446.9 L720.3 403.9 L725.2 424.8 L565.6 468.2 Z" stroke="#38912f" stroke-width="1.8" fill="none" />
<line x1="561.2" y1="446.9" x2="565.6" y2="468.2" stroke="#1f1f1f" stroke-width="1.8" />
<circle cx="592.3" cy="450.2" r="8.6" fill="none" stroke="#1f1f1f" stroke-width="1.35"/>
<path d="M583.7 450.2 A8.6 8.6 0 0 0 596.6 457.6" fill="none" stroke="#38912f" stroke-width="1.4"/>
<circle cx="600.1" cy="458.0" r="0.8" fill="#222"/>
<circle cx="584.5" cy="458.0" r="0.8" fill="#222"/>
<circle cx="584.5" cy="442.4" r="0.8" fill="#222"/>
<circle cx="600.1" cy="442.4" r="0.8" fill="#222"/>
<circle cx="626.2" cy="441.2" r="8.6" fill="none" stroke="#1f1f1f" stroke-width="1.35"/>
<path d="M617.6 441.2 A8.6 8.6 0 0 0 630.5 448.6" fill="none" stroke="#38912f" stroke-width="1.4"/>
<circle cx="634.0" cy="449.0" r="0.8" fill="#222"/>
<circle cx="618.4" cy="449.0" r="0.8" fill="#222"/>
<circle cx="618.4" cy="433.4" r="0.8" fill="#222"/>
<circle cx="634.0" cy="433.4" r="0.8" fill="#222"/>
<circle cx="660.6" cy="431.4" r="8.6" fill="none" stroke="#38912f" stroke-width="1.35"/>
<path d="M658.9 439.8 A8.6 8.6 0 0 0 669.2 431.4" fill="none" stroke="#1f1f1f" stroke-width="1.4"/>
<circle cx="668.4" cy="439.2" r="0.8" fill="#222"/>
<circle cx="652.8" cy="439.2" r="0.8" fill="#222"/>
<circle cx="652.8" cy="423.6" r="0.8" fill="#222"/>
<circle cx="668.4" cy="423.6" r="0.8" fill="#222"/>
<circle cx="694.4" cy="422.4" r="8.6" fill="none" stroke="#38912f" stroke-width="1.35"/>
<path d="M692.7 430.8 A8.6 8.6 0 0 0 703.0 422.4" fill="none" stroke="#1f1f1f" stroke-width="1.4"/>
<circle cx="702.2" cy="430.2" r="0.8" fill="#222"/>
<circle cx="686.6" cy="430.2" r="0.8" fill="#222"/>
<circle cx="686.6" cy="414.6" r="0.8" fill="#222"/>
<circle cx="702.2" cy="414.6" r="0.8" fill="#222"/>
</g>
<circle cx="558.6" cy="478.4" r="8.0" fill="none" stroke="#434c84" stroke-width="1.15"/>
<text transform="translate(558.6 482.8) scale(0.95 1)" x="0" y="0" text-anchor="middle" font-size="13.4" fill="#2a2a2a">16</text>
<circle cx="644.2" cy="464.9" r="8.0" fill="none" stroke="#434c84" stroke-width="1.15"/>
<text transform="translate(644.2 469.3) scale(0.95 1)" x="0" y="0" text-anchor="middle" font-size="13.4" fill="#2a2a2a">15</text>
<path d="M574.2 431.2 L586.2 420.4 L596.6 417.8 L596.6 420.8 L584.6 431.6 L576.4 434.0 Z" stroke="#1f1f1f" stroke-width="1.4" fill="#fff" />
<path d="M574.2 431.2 L583.8 429.0 L596.6 417.8" stroke="#1f1f1f" stroke-width="1.2" fill="none" />
<line x1="583.8" y1="429.0" x2="584.6" y2="431.6" stroke="#1f1f1f" stroke-width="1.0" />
<path d="M580.8 427.2 L585.6 423.0 L589.8 422.0 L585.2 426.2 Z" stroke="#1f1f1f" stroke-width="1.0" fill="none" />
<ellipse cx="585.2" cy="424.8" rx="2.0" ry="1.2" fill="#555" stroke="#1f1f1f" stroke-width="0.9" transform="rotate(-35 585.2 424.8)"/>
<path d="M606.6 415.2 L618.6 404.4 L629.0 401.8 L629.0 404.8 L617.0 415.6 L608.8 418.0 Z" stroke="#1f1f1f" stroke-width="1.4" fill="#fff" />
<path d="M606.6 415.2 L616.2 413.0 L629.0 401.8" stroke="#1f1f1f" stroke-width="1.2" fill="none" />
<line x1="616.2" y1="413.0" x2="617.0" y2="415.6" stroke="#1f1f1f" stroke-width="1.0" />
<path d="M613.2 411.2 L618.0 407.0 L622.2 406.0 L617.6 410.2 Z" stroke="#1f1f1f" stroke-width="1.0" fill="none" />
<ellipse cx="617.6" cy="408.8" rx="2.0" ry="1.2" fill="#555" stroke="#1f1f1f" stroke-width="0.9" transform="rotate(-35 617.6 408.8)"/>
<path d="M646.2 405.2 L658.2 394.4 L668.6 391.8 L668.6 394.8 L656.6 405.6 L648.4 408.0 Z" stroke="#1f1f1f" stroke-width="1.4" fill="#fff" />
<path d="M646.2 405.2 L655.8 403.0 L668.6 391.8" stroke="#1f1f1f" stroke-width="1.2" fill="none" />
<line x1="655.8" y1="403.0" x2="656.6" y2="405.6" stroke="#1f1f1f" stroke-width="1.0" />
<path d="M652.8 401.2 L657.6 397.0 L661.8 396.0 L657.2 400.2 Z" stroke="#1f1f1f" stroke-width="1.0" fill="none" />
<ellipse cx="657.2" cy="398.8" rx="2.0" ry="1.2" fill="#555" stroke="#1f1f1f" stroke-width="0.9" transform="rotate(-35 657.2 398.8)"/>
<path d="M673.2 394.2 L685.2 383.4 L695.6 380.8 L695.6 383.8 L683.6 394.6 L675.4 397.0 Z" stroke="#1f1f1f" stroke-width="1.4" fill="#fff" />
<path d="M673.2 394.2 L682.8 392.0 L695.6 380.8" stroke="#1f1f1f" stroke-width="1.2" fill="none" />
<line x1="682.8" y1="392.0" x2="683.6" y2="394.6" stroke="#1f1f1f" stroke-width="1.0" />
<path d="M679.8 390.2 L684.6 386.0 L688.8 385.0 L684.2 389.2 Z" stroke="#1f1f1f" stroke-width="1.0" fill="none" />
<ellipse cx="684.2" cy="387.8" rx="2.0" ry="1.2" fill="#555" stroke="#1f1f1f" stroke-width="0.9" transform="rotate(-35 684.2 387.8)"/>
<circle cx="677.8" cy="375.8" r="8.0" fill="none" stroke="#434c84" stroke-width="1.15"/>
<text transform="translate(677.8 380.2) scale(0.95 1)" x="0" y="0" text-anchor="middle" font-size="13.4" fill="#2a2a2a">14</text>
<path d="M570.8 440.2 L574.2 439.4 L575.6 442.0 L572.2 443.0 Z" stroke="#1f1f1f" stroke-width="1.4" fill="#fff" />
<line x1="570.8" y1="440.2" x2="571.0" y2="441.6" stroke="#1f1f1f" stroke-width="1.2" />
<line x1="571.0" y1="441.6" x2="572.2" y2="443.8" stroke="#1f1f1f" stroke-width="1.0" />
<path d="M643.4 412.6 L646.8 411.8 L648.2 414.4 L644.8 415.4 Z" stroke="#1f1f1f" stroke-width="1.4" fill="#fff" />
<line x1="643.4" y1="412.6" x2="643.6" y2="414.0" stroke="#1f1f1f" stroke-width="1.2" />
<line x1="643.6" y1="414.0" x2="644.8" y2="416.2" stroke="#1f1f1f" stroke-width="1.0" />
<path d="M682.8 403.2 L686.2 402.4 L687.6 405.0 L684.2 406.0 Z" stroke="#1f1f1f" stroke-width="1.4" fill="#fff" />
<line x1="682.8" y1="403.2" x2="683.0" y2="404.6" stroke="#1f1f1f" stroke-width="1.2" />
<line x1="683.0" y1="404.6" x2="684.2" y2="406.8" stroke="#1f1f1f" stroke-width="1.0" />
<path d="M709.6 392.0 L713.0 391.2 L714.4 393.8 L711.0 394.8 Z" stroke="#1f1f1f" stroke-width="1.4" fill="#fff" />
<line x1="709.6" y1="392.0" x2="709.8" y2="393.4" stroke="#1f1f1f" stroke-width="1.2" />
<line x1="709.8" y1="393.4" x2="711.0" y2="395.6" stroke="#1f1f1f" stroke-width="1.0" />
<line x1="607.4" y1="468.2" x2="613.9" y2="471.5" stroke="#2e3a78" stroke-width="1.2" stroke-dasharray="2.6 1.2" stroke-linecap="butt"/>
<circle cx="616.7" cy="472.8" r="1.05" fill="#1f1f1f"/>
<line x1="616.4" y1="464.9" x2="622.9" y2="468.2" stroke="#2e3a78" stroke-width="1.2" stroke-dasharray="2.6 1.2" stroke-linecap="butt"/>
<circle cx="625.7" cy="469.6" r="1.05" fill="#1f1f1f"/>
<line x1="607.0" y1="480.5" x2="612.6" y2="482.9" stroke="#2e3a78" stroke-width="1.2" stroke-dasharray="2.6 1.2" stroke-linecap="butt"/>
<circle cx="614.9" cy="483.9" r="1.05" fill="#1f1f1f"/>
<line x1="617.2" y1="478.0" x2="622.1" y2="480.5" stroke="#2e3a78" stroke-width="1.2" stroke-dasharray="2.6 1.2" stroke-linecap="butt"/>
<circle cx="624.2" cy="481.5" r="1.05" fill="#1f1f1f"/>
<line x1="644.2" y1="448.5" x2="646.6" y2="451.0" stroke="#2e3a78" stroke-width="1.2" stroke-dasharray="2.6 1.2" stroke-linecap="butt"/>
<circle cx="647.7" cy="452.0" r="1.05" fill="#1f1f1f"/>
<line x1="654.8" y1="468.2" x2="659.7" y2="470.1" stroke="#2e3a78" stroke-width="1.2" stroke-dasharray="2.6 1.2" stroke-linecap="butt"/>
<circle cx="661.8" cy="471.0" r="1.05" fill="#1f1f1f"/>
<line x1="647.5" y1="471.5" x2="650.7" y2="473.4" stroke="#2e3a78" stroke-width="1.2" stroke-dasharray="2.6 1.2" stroke-linecap="butt"/>
<circle cx="652.1" cy="474.2" r="1.05" fill="#1f1f1f"/>
<line x1="676.1" y1="448.5" x2="681.8" y2="451.3" stroke="#2e3a78" stroke-width="1.2" stroke-dasharray="2.6 1.2" stroke-linecap="butt"/>
<circle cx="684.2" cy="452.5" r="1.05" fill="#1f1f1f"/>
<line x1="685.9" y1="446.1" x2="691.6" y2="448.9" stroke="#2e3a78" stroke-width="1.2" stroke-dasharray="2.6 1.2" stroke-linecap="butt"/>
<circle cx="694.0" cy="450.0" r="1.05" fill="#1f1f1f"/>
<line x1="702.3" y1="442.8" x2="708.8" y2="445.6" stroke="#2e3a78" stroke-width="1.2" stroke-dasharray="2.6 1.2" stroke-linecap="butt"/>
<circle cx="711.6" cy="446.8" r="1.05" fill="#1f1f1f"/>
<line x1="712.1" y1="440.7" x2="718.6" y2="443.6" stroke="#2e3a78" stroke-width="1.2" stroke-dasharray="2.6 1.2" stroke-linecap="butt"/>
<circle cx="721.4" cy="444.9" r="1.05" fill="#1f1f1f"/>
<line x1="668.7" y1="440.0" x2="671.2" y2="442.0" stroke="#2e3a78" stroke-width="1.2" stroke-dasharray="2.6 1.2" stroke-linecap="butt"/>
<circle cx="672.2" cy="442.8" r="1.05" fill="#1f1f1f"/>
<line x1="685.1" y1="432.5" x2="690.8" y2="435.1" stroke="#2e3a78" stroke-width="1.2" stroke-dasharray="2.6 1.2" stroke-linecap="butt"/>
<circle cx="693.2" cy="436.2" r="1.05" fill="#1f1f1f"/>
<line x1="694.1" y1="428.9" x2="699.0" y2="431.4" stroke="#2e3a78" stroke-width="1.2" stroke-dasharray="2.6 1.2" stroke-linecap="butt"/>
<circle cx="701.1" cy="432.4" r="1.05" fill="#1f1f1f"/>
<line x1="612.6" y1="425.3" x2="612.6" y2="429.7" stroke="#333" stroke-width="0.9" stroke-dasharray="1.6 1.4"/>
<line x1="635.2" y1="421.5" x2="635.2" y2="426.5" stroke="#333" stroke-width="0.9" stroke-dasharray="1.6 1.4"/>
<line x1="672.0" y1="415.5" x2="672.0" y2="419.1" stroke="#333" stroke-width="0.9" stroke-dasharray="1.6 1.4"/>
<line x1="708.0" y1="410.1" x2="708.0" y2="416.6" stroke="#333" stroke-width="0.9" stroke-dasharray="1.6 1.4"/>
<line x1="571.4" y1="460.0" x2="575.5" y2="464.1" stroke="#333" stroke-width="0.9" stroke-dasharray="1.6 1.4"/>
<line x1="590.2" y1="428.6" x2="595.1" y2="430.9" stroke="#333" stroke-width="0.9" stroke-dasharray="1.6 1.4"/>
<line x1="663.0" y1="402.7" x2="663.0" y2="412.5" stroke="#414d8e" stroke-width="1.1" />
<line x1="703.1" y1="416.6" x2="708.8" y2="423.7" stroke="#414d8e" stroke-width="1.1" />
<circle cx="693.3" cy="436.8" r="1.05" fill="#1f1f1f"/>
<circle cx="703.1" cy="434.1" r="1.05" fill="#1f1f1f"/>
<circle cx="672.8" cy="444.0" r="1.05" fill="#1f1f1f"/>
<g id="canopy">
<path d="M729.5 272.4 L846.6 225.8" stroke="#1f1f1f" stroke-width="3.4" fill="none"/>
<path d="M730.8 271.9 L845.2 226.4" stroke="#fff" stroke-width="1.2" fill="none" stroke-linecap="butt"/>
<circle cx="846.4" cy="225.9" r="1.3" fill="#1f1f1f"/>
<path d="M775.6 290.1 L910.4 249.4 Q918.0 258.0 913.9 270.0 L778.0 315.6 Q786.6 302.0 775.6 290.1 Z" fill="#fff" stroke="#1f1f1f" stroke-width="1.3"/>
<path d="M775.6 290.1 L910.4 249.4" stroke="#1f1f1f" stroke-width="1.9" fill="none"/>
<path d="M777.6 291.6 Q787.6 302.6 779.6 314.4" stroke="#1f1f1f" stroke-width="0.9" fill="none"/>
<path d="M908.6 250.4 Q914.0 258.6 911.0 270.6" stroke="#1f1f1f" stroke-width="0.8" fill="none"/>
<line x1="775.6" y1="290.1" x2="778.6" y2="289.9" stroke="#1f1f1f" stroke-width="1.6" />
<line x1="776.4" y1="315.4" x2="779.6" y2="314.2" stroke="#1f1f1f" stroke-width="2.0" />
<path d="M758.8 294.8 Q770.6 298.0 767.6 314.0 Q765.6 320.6 763.0 321.4 L758.8 321.4 Z" fill="#fff" stroke="#1f1f1f" stroke-width="1.5"/>
<path d="M923.4 245.2 Q933.6 248.6 931.2 260.6 Q929.6 266.0 927.2 267.0 L923.4 267.0 Z" fill="#fff" stroke="#1f1f1f" stroke-width="1.5"/>
<circle cx="718.9" cy="277.8" r="1.25" fill="#1f1f1f"/>
<circle cx="718.4" cy="297.2" r="1.25" fill="#1f1f1f"/>
<circle cx="875.4" cy="229.1" r="1.25" fill="#1f1f1f"/>
<circle cx="875.4" cy="248.3" r="1.25" fill="#1f1f1f"/>
<line x1="724.8" y1="280.2" x2="752.5" y2="294.4" stroke="#414d8e" stroke-width="1.1" />
<line x1="727.9" y1="301.5" x2="751.5" y2="313.7" stroke="#414d8e" stroke-width="1.1" />
<line x1="882.0" y1="232.2" x2="911.6" y2="242.4" stroke="#414d8e" stroke-width="1.1" />
<line x1="882.0" y1="248.7" x2="908.0" y2="249.9" stroke="#414d8e" stroke-width="1.1" />
<line x1="770.9" y1="304.3" x2="776.8" y2="301.9" stroke="#414d8e" stroke-width="1.1" />
<line x1="916.3" y1="261.0" x2="921.7" y2="259.4" stroke="#414d8e" stroke-width="1.1" />
</g>
<circle cx="748.9" cy="246.8" r="8.0" fill="none" stroke="#434c84" stroke-width="1.15"/>
<text transform="translate(748.9 251.2) scale(0.95 1)" x="0" y="0" text-anchor="middle" font-size="13.4" fill="#2a2a2a">4</text>
<circle cx="915.6" cy="229.3" r="8.0" fill="none" stroke="#434c84" stroke-width="1.15"/>
<text transform="translate(915.6 233.7) scale(0.95 1)" x="0" y="0" text-anchor="middle" font-size="13.4" fill="#2a2a2a">2</text>
<circle cx="823.6" cy="315.6" r="8.0" fill="none" stroke="#434c84" stroke-width="1.15"/>
<text transform="translate(823.6 320.0) scale(0.95 1)" x="0" y="0" text-anchor="middle" font-size="13.4" fill="#2a2a2a">3</text>
<path d="M757.6 397.6 L801.3 388.7 L801.3 510.9 L757.6 527.3 Z" stroke="#1f1f1f" stroke-width="1.3" fill="none" />
<line x1="757.6" y1="397.6" x2="757.6" y2="527.3" stroke="#1f1f1f" stroke-width="1.9" />
<line x1="781.5" y1="449.5" x2="807.6" y2="456.4" stroke="#414d8e" stroke-width="1.1" />
<path d="M817.3 402.2 L823.6 403.6 L823.6 545.5 L817.3 542.7 Z" stroke="#1f1f1f" stroke-width="1.4" fill="none" />
<path d="M823.6 403.6 L876.7 392.7 L876.7 525.1 L823.6 545.5 Z" stroke="#1f1f1f" stroke-width="1.4" fill="none" />
<path d="M817.3 402.2 L870.0 391.8 L876.7 392.7" stroke="#1f1f1f" stroke-width="1.3" fill="none" />
<line x1="870.0" y1="391.8" x2="870.8" y2="393.8" stroke="#1f1f1f" stroke-width="0.8" />
<line x1="872.4" y1="392.2" x2="873.0" y2="393.4" stroke="#1f1f1f" stroke-width="0.8" />
<path d="M828.2 407.6 L871.3 399.1 L871.3 520.9 L828.2 537.3 Z" stroke="#1f1f1f" stroke-width="1.4" fill="none" />
<line x1="845.1" y1="432.4" x2="855.5" y2="418.5" stroke="#1f1f1f" stroke-width="1.15" />
<line x1="846.4" y1="426.4" x2="849.1" y2="421.8" stroke="#1f1f1f" stroke-width="1.15" />
<line x1="851.3" y1="431.3" x2="854.5" y2="427.6" stroke="#1f1f1f" stroke-width="1.15" />
<line x1="840.9" y1="478.5" x2="856.4" y2="449.1" stroke="#1f1f1f" stroke-width="1.15" />
<line x1="844.0" y1="464.5" x2="847.3" y2="458.2" stroke="#1f1f1f" stroke-width="1.15" />
<line x1="849.1" y1="469.1" x2="854.5" y2="460.9" stroke="#1f1f1f" stroke-width="1.15" />
<line x1="845.1" y1="513.6" x2="855.5" y2="500.0" stroke="#1f1f1f" stroke-width="1.15" />
<line x1="846.4" y1="507.3" x2="849.1" y2="503.6" stroke="#1f1f1f" stroke-width="1.15" />
<line x1="851.3" y1="512.7" x2="854.5" y2="509.5" stroke="#1f1f1f" stroke-width="1.15" />
<rect x="871.8" y="454.2" width="3.8" height="16.3" fill="#fff" stroke="#1f1f1f" stroke-width="1.3"/>
<path d="M909.6 397.6 L953.3 388.7 L953.3 510.9 L909.6 527.3 Z" stroke="#1f1f1f" stroke-width="1.3" fill="none" />
<line x1="909.6" y1="397.6" x2="909.6" y2="527.3" stroke="#1f1f1f" stroke-width="1.9" />
<line x1="933.5" y1="449.5" x2="959.6" y2="456.4" stroke="#414d8e" stroke-width="1.1" />
<path d="M969.5 402.2 L975.8 403.6 L975.8 545.5 L969.5 542.7 Z" stroke="#1f1f1f" stroke-width="1.4" fill="none" />
<path d="M975.8 403.6 L1028.9 392.7 L1028.9 525.1 L975.8 545.5 Z" stroke="#1f1f1f" stroke-width="1.4" fill="none" />
<path d="M969.5 402.2 L1022.2 391.8 L1028.9 392.7" stroke="#1f1f1f" stroke-width="1.3" fill="none" />
<line x1="1022.2" y1="391.8" x2="1023.0" y2="393.8" stroke="#1f1f1f" stroke-width="0.8" />
<line x1="1024.6" y1="392.2" x2="1025.2" y2="393.4" stroke="#1f1f1f" stroke-width="0.8" />
<path d="M980.4 407.6 L1023.5 399.1 L1023.5 520.9 L980.4 537.3 Z" stroke="#1f1f1f" stroke-width="1.4" fill="none" />
<line x1="997.3" y1="432.4" x2="1007.7" y2="418.5" stroke="#1f1f1f" stroke-width="1.15" />
<line x1="998.6" y1="426.4" x2="1001.3" y2="421.8" stroke="#1f1f1f" stroke-width="1.15" />
<line x1="1003.5" y1="431.3" x2="1006.7" y2="427.6" stroke="#1f1f1f" stroke-width="1.15" />
<line x1="993.1" y1="478.5" x2="1008.6" y2="449.1" stroke="#1f1f1f" stroke-width="1.15" />
<line x1="996.2" y1="464.5" x2="999.5" y2="458.2" stroke="#1f1f1f" stroke-width="1.15" />
<line x1="1001.3" y1="469.1" x2="1006.7" y2="460.9" stroke="#1f1f1f" stroke-width="1.15" />
<line x1="997.3" y1="513.6" x2="1007.7" y2="500.0" stroke="#1f1f1f" stroke-width="1.15" />
<line x1="998.6" y1="507.3" x2="1001.3" y2="503.6" stroke="#1f1f1f" stroke-width="1.15" />
<line x1="1003.5" y1="512.7" x2="1006.7" y2="509.5" stroke="#1f1f1f" stroke-width="1.15" />
<rect x="975.5" y="466.4" width="4.0" height="16.3" fill="#fff" stroke="#1f1f1f" stroke-width="1.3"/>
<circle cx="776.4" cy="375.1" r="8.0" fill="none" stroke="#434c84" stroke-width="1.15"/>
<text transform="translate(776.4 379.5) scale(0.95 1)" x="0" y="0" text-anchor="middle" font-size="13.4" fill="#2a2a2a">10</text>
<circle cx="894.9" cy="455.8" r="8.0" fill="none" stroke="#434c84" stroke-width="1.15"/>
<text transform="translate(894.9 460.2) scale(0.95 1)" x="0" y="0" text-anchor="middle" font-size="13.4" fill="#2a2a2a">5</text>
<circle cx="1050.4" cy="398.5" r="8.0" fill="none" stroke="#434c84" stroke-width="1.15"/>
<text transform="translate(1050.4 402.9) scale(0.95 1)" x="0" y="0" text-anchor="middle" font-size="13.4" fill="#2a2a2a">6</text>
<g id="p8">
<path d="M581.8 640.4 L722.3 588.6 L722.3 630.4 L581.8 686.0 Z" stroke="#1f1f1f" stroke-width="1.3" fill="none" />
<path d="M575.8 639.1 L581.8 640.4 L581.8 686.0 L575.8 679.5 Z" stroke="#1f1f1f" stroke-width="1.3" fill="none" />
<path d="M575.8 639.1 L718.2 585.9 L722.3 588.6" stroke="#1f1f1f" stroke-width="1.3" fill="none" />
<path d="M579.6 639.4 L719.2 587.4" stroke="#1f1f1f" stroke-width="1.8" fill="none" stroke-dasharray="17 1.6" stroke-linecap="butt"/>
</g>
<circle cx="720.1" cy="648.6" r="8.0" fill="none" stroke="#434c84" stroke-width="1.15"/>
<text transform="translate(720.1 653.0) scale(0.95 1)" x="0" y="0" text-anchor="middle" font-size="13.4" fill="#2a2a2a">8</text>
<circle cx="544.2" cy="581.0" r="1.25" fill="#1f1f1f"/>
<line x1="552.4" y1="585.4" x2="563.3" y2="589.5" stroke="#414d8e" stroke-width="1.1" />
<circle cx="544.7" cy="602.8" r="1.25" fill="#1f1f1f"/>
<line x1="553.2" y1="605.5" x2="565.5" y2="609.9" stroke="#414d8e" stroke-width="1.1" />
<circle cx="693.1" cy="567.4" r="1.25" fill="#1f1f1f"/>
<line x1="699.6" y1="570.4" x2="709.5" y2="573.6" stroke="#414d8e" stroke-width="1.1" />
<circle cx="688.2" cy="588.6" r="1.25" fill="#1f1f1f"/>
<line x1="692.3" y1="590.0" x2="697.7" y2="591.9" stroke="#414d8e" stroke-width="1.1" />
<circle cx="544.4" cy="603.0" r="0.9" fill="#1f1f1f"/>
<path d="M751.4 600.8 L775.4 577.7 L807.6 596.3 L780.9 620.4 Z" stroke="#1f1f1f" stroke-width="1.2" fill="none" />
<path d="M751.4 600.8 L751.4 616.0 L783.1 637.9 L780.9 620.4" stroke="#1f1f1f" stroke-width="1.2" fill="none" />
<path d="M807.6 596.3 L807.6 615.0 L783.1 637.9" stroke="#1f1f1f" stroke-width="1.2" fill="none" />
<circle cx="802.7" cy="634.4" r="8.0" fill="none" stroke="#434c84" stroke-width="1.15"/>
<text transform="translate(802.7 638.8) scale(0.95 1)" x="0" y="0" text-anchor="middle" font-size="13.4" fill="#2a2a2a">9</text>
<path d="M645 691 L645 715 Q645 719 641 720.2 L616 728 Q612.4 729.4 613.4 732 Q614.6 734.6 618 733.6 L652 723 Q655.6 722 656.4 725 Q657 728 653.6 729.2 L628 737.2 Q624.4 738.6 625.4 741.2 Q626.6 743.8 630 742.8 L662 733 Q666 731.6 666 727.6 L666 704.4" stroke="#1f1f1f" stroke-width="1.7" fill="none" stroke-linecap="butt"/>
<line x1="685.0" y1="723.0" x2="666.6" y2="729.4" stroke="#1f1f1f" stroke-width="1.25" />
<circle cx="693.0" cy="721.0" r="8.0" fill="none" stroke="#434c84" stroke-width="1.15"/>
<text transform="translate(693.0 725.4) scale(0.95 1)" x="0" y="0" text-anchor="middle" font-size="13.4" fill="#2a2a2a">22</text>
<path d="M658.0 740.6 L697.0 738.0 L705.6 744.4 L668.0 747.0 Z" stroke="#1f1f1f" stroke-width="1.2" fill="none" />
<path d="M658.0 740.6 L658.0 759.0 L668.0 765.6 L705.6 763.0 L705.6 744.4" stroke="#1f1f1f" stroke-width="1.2" fill="none" />
<line x1="668.0" y1="747.0" x2="668.0" y2="765.6" stroke="#1f1f1f" stroke-width="1.1" />
<path d="M660.2 742.4 L669.4 748.6 L669.4 764.0" stroke="#1f1f1f" stroke-width="0.7" fill="none" />
<line x1="695.6" y1="739.6" x2="695.6" y2="743.4" stroke="#1f1f1f" stroke-width="0.7" />
<line x1="697.0" y1="738.0" x2="697.4" y2="744.0" stroke="#1f1f1f" stroke-width="0.7" />
<line x1="658.0" y1="759.0" x2="659.6" y2="761.6" stroke="#1f1f1f" stroke-width="1.3" />
<line x1="716.2" y1="737.4" x2="705.8" y2="744.2" stroke="#1f1f1f" stroke-width="1.25" />
<circle cx="724.4" cy="732.4" r="8.0" fill="none" stroke="#434c84" stroke-width="1.15"/>
<text transform="translate(724.4 736.8) scale(0.95 1)" x="0" y="0" text-anchor="middle" font-size="13.4" fill="#2a2a2a">21</text>
<line x1="737.5" y1="687.8" x2="737.5" y2="780.6" stroke="#1f1f1f" stroke-width="3.0" stroke-linecap="butt"/>
<circle cx="743.9" cy="692.6" r="1.05" fill="#1f1f1f"/>
<circle cx="743.9" cy="706.8" r="1.05" fill="#1f1f1f"/>
<circle cx="743.9" cy="712.0" r="1.05" fill="#1f1f1f"/>
<circle cx="743.9" cy="721.5" r="1.05" fill="#1f1f1f"/>
<circle cx="743.9" cy="727.8" r="1.05" fill="#1f1f1f"/>
<circle cx="743.9" cy="736.6" r="1.05" fill="#1f1f1f"/>
<circle cx="743.9" cy="749.6" r="1.05" fill="#1f1f1f"/>
<circle cx="743.9" cy="754.6" r="1.05" fill="#1f1f1f"/>
<circle cx="743.9" cy="763.0" r="1.05" fill="#1f1f1f"/>
<circle cx="743.9" cy="770.8" r="1.05" fill="#1f1f1f"/>
<circle cx="743.9" cy="776.7" r="1.05" fill="#1f1f1f"/>
<line x1="761.2" y1="668.4" x2="761.2" y2="761.3" stroke="#1f1f1f" stroke-width="3.0" stroke-linecap="butt"/>
<circle cx="766.9" cy="673.2" r="1.05" fill="#1f1f1f"/>
<circle cx="766.9" cy="687.4" r="1.05" fill="#1f1f1f"/>
<circle cx="766.9" cy="692.6" r="1.05" fill="#1f1f1f"/>
<circle cx="766.9" cy="702.1" r="1.05" fill="#1f1f1f"/>
<circle cx="766.9" cy="708.4" r="1.05" fill="#1f1f1f"/>
<circle cx="766.9" cy="717.2" r="1.05" fill="#1f1f1f"/>
<circle cx="766.9" cy="730.2" r="1.05" fill="#1f1f1f"/>
<circle cx="766.9" cy="735.2" r="1.05" fill="#1f1f1f"/>
<circle cx="766.9" cy="743.6" r="1.05" fill="#1f1f1f"/>
<circle cx="766.9" cy="751.4" r="1.05" fill="#1f1f1f"/>
<circle cx="766.9" cy="757.3" r="1.05" fill="#1f1f1f"/>
<line x1="778.4" y1="687.8" x2="778.4" y2="780.6" stroke="#1f1f1f" stroke-width="3.0" stroke-linecap="butt"/>
<circle cx="783.6" cy="692.6" r="1.05" fill="#1f1f1f"/>
<circle cx="783.6" cy="706.8" r="1.05" fill="#1f1f1f"/>
<circle cx="783.6" cy="712.0" r="1.05" fill="#1f1f1f"/>
<circle cx="783.6" cy="721.5" r="1.05" fill="#1f1f1f"/>
<circle cx="783.6" cy="727.8" r="1.05" fill="#1f1f1f"/>
<circle cx="783.6" cy="736.6" r="1.05" fill="#1f1f1f"/>
<circle cx="783.6" cy="749.6" r="1.05" fill="#1f1f1f"/>
<circle cx="783.6" cy="754.6" r="1.05" fill="#1f1f1f"/>
<circle cx="783.6" cy="763.0" r="1.05" fill="#1f1f1f"/>
<circle cx="783.6" cy="770.8" r="1.05" fill="#1f1f1f"/>
<circle cx="783.6" cy="776.7" r="1.05" fill="#1f1f1f"/>
<line x1="802.0" y1="668.4" x2="802.0" y2="761.3" stroke="#1f1f1f" stroke-width="3.0" stroke-linecap="butt"/>
<circle cx="795.4" cy="676.0" r="1.05" fill="#1f1f1f"/>
<circle cx="795.4" cy="690.2" r="1.05" fill="#1f1f1f"/>
<circle cx="795.4" cy="695.4" r="1.05" fill="#1f1f1f"/>
<circle cx="795.4" cy="704.9" r="1.05" fill="#1f1f1f"/>
<circle cx="795.4" cy="711.2" r="1.05" fill="#1f1f1f"/>
<circle cx="795.4" cy="720.0" r="1.05" fill="#1f1f1f"/>
<circle cx="795.4" cy="733.0" r="1.05" fill="#1f1f1f"/>
<circle cx="795.4" cy="738.0" r="1.05" fill="#1f1f1f"/>
<circle cx="795.4" cy="746.4" r="1.05" fill="#1f1f1f"/>
<circle cx="795.4" cy="754.2" r="1.05" fill="#1f1f1f"/>
<circle cx="795.4" cy="760.1" r="1.05" fill="#1f1f1f"/>
<line x1="918.4" y1="665.1" x2="918.4" y2="757.9" stroke="#1f1f1f" stroke-width="3.0" stroke-linecap="butt"/>
<circle cx="924.8" cy="669.9" r="1.05" fill="#1f1f1f"/>
<circle cx="924.8" cy="684.1" r="1.05" fill="#1f1f1f"/>
<circle cx="924.8" cy="689.3" r="1.05" fill="#1f1f1f"/>
<circle cx="924.8" cy="698.8" r="1.05" fill="#1f1f1f"/>
<circle cx="924.8" cy="705.1" r="1.05" fill="#1f1f1f"/>
<circle cx="924.8" cy="713.9" r="1.05" fill="#1f1f1f"/>
<circle cx="924.8" cy="726.9" r="1.05" fill="#1f1f1f"/>
<circle cx="924.8" cy="731.9" r="1.05" fill="#1f1f1f"/>
<circle cx="924.8" cy="740.3" r="1.05" fill="#1f1f1f"/>
<circle cx="924.8" cy="748.1" r="1.05" fill="#1f1f1f"/>
<circle cx="924.8" cy="754.0" r="1.05" fill="#1f1f1f"/>
<line x1="942.0" y1="645.9" x2="942.0" y2="738.8" stroke="#1f1f1f" stroke-width="3.0" stroke-linecap="butt"/>
<circle cx="947.6" cy="650.7" r="1.05" fill="#1f1f1f"/>
<circle cx="947.6" cy="664.9" r="1.05" fill="#1f1f1f"/>
<circle cx="947.6" cy="670.1" r="1.05" fill="#1f1f1f"/>
<circle cx="947.6" cy="679.6" r="1.05" fill="#1f1f1f"/>
<circle cx="947.6" cy="685.9" r="1.05" fill="#1f1f1f"/>
<circle cx="947.6" cy="694.7" r="1.05" fill="#1f1f1f"/>
<circle cx="947.6" cy="707.7" r="1.05" fill="#1f1f1f"/>
<circle cx="947.6" cy="712.7" r="1.05" fill="#1f1f1f"/>
<circle cx="947.6" cy="721.1" r="1.05" fill="#1f1f1f"/>
<circle cx="947.6" cy="728.9" r="1.05" fill="#1f1f1f"/>
<circle cx="947.6" cy="734.8" r="1.05" fill="#1f1f1f"/>
<line x1="959.1" y1="665.1" x2="959.1" y2="757.9" stroke="#1f1f1f" stroke-width="3.0" stroke-linecap="butt"/>
<circle cx="964.1" cy="669.9" r="1.05" fill="#1f1f1f"/>
<circle cx="964.1" cy="684.1" r="1.05" fill="#1f1f1f"/>
<circle cx="964.1" cy="689.3" r="1.05" fill="#1f1f1f"/>
<circle cx="964.1" cy="698.8" r="1.05" fill="#1f1f1f"/>
<circle cx="964.1" cy="705.1" r="1.05" fill="#1f1f1f"/>
<circle cx="964.1" cy="713.9" r="1.05" fill="#1f1f1f"/>
<circle cx="964.1" cy="726.9" r="1.05" fill="#1f1f1f"/>
<circle cx="964.1" cy="731.9" r="1.05" fill="#1f1f1f"/>
<circle cx="964.1" cy="740.3" r="1.05" fill="#1f1f1f"/>
<circle cx="964.1" cy="748.1" r="1.05" fill="#1f1f1f"/>
<circle cx="964.1" cy="754.0" r="1.05" fill="#1f1f1f"/>
<line x1="982.7" y1="645.9" x2="982.7" y2="738.8" stroke="#1f1f1f" stroke-width="3.0" stroke-linecap="butt"/>
<circle cx="976.0" cy="653.5" r="1.05" fill="#1f1f1f"/>
<circle cx="976.0" cy="667.7" r="1.05" fill="#1f1f1f"/>
<circle cx="976.0" cy="672.9" r="1.05" fill="#1f1f1f"/>
<circle cx="976.0" cy="682.4" r="1.05" fill="#1f1f1f"/>
<circle cx="976.0" cy="688.7" r="1.05" fill="#1f1f1f"/>
<circle cx="976.0" cy="697.5" r="1.05" fill="#1f1f1f"/>
<circle cx="976.0" cy="710.5" r="1.05" fill="#1f1f1f"/>
<circle cx="976.0" cy="715.5" r="1.05" fill="#1f1f1f"/>
<circle cx="976.0" cy="723.9" r="1.05" fill="#1f1f1f"/>
<circle cx="976.0" cy="731.7" r="1.05" fill="#1f1f1f"/>
<circle cx="976.0" cy="737.6" r="1.05" fill="#1f1f1f"/>
<circle cx="999.6" cy="642.9" r="8.0" fill="none" stroke="#434c84" stroke-width="1.15"/>
<text transform="translate(999.6 647.3) scale(0.95 1)" x="0" y="0" text-anchor="middle" font-size="13.4" fill="#2a2a2a">17</text>
<line x1="965.8" y1="747.3" x2="971.4" y2="762.6" stroke="#414d8e" stroke-width="1.1" />
<circle cx="978.0" cy="770.2" r="8.0" fill="none" stroke="#434c84" stroke-width="1.15"/>
<text transform="translate(978.0 774.6) scale(0.95 1)" x="0" y="0" text-anchor="middle" font-size="13.4" fill="#2a2a2a">38</text>
<path d="M838.0 716.7 L852.0 701.1 L877.4 705.7 L863.4 721.9 Z" stroke="#1f1f1f" stroke-width="0.8" fill="#1c1c1c" />
<path d="M845.0 708.9 L870.4 713.8 M850.7 719.3 L864.7 703.4" stroke="#555" stroke-width="0.6" fill="none"/>
<path d="M849.5 706.3 L860.0 708.3 M863.0 708.7 L873.0 710.7" stroke="#777" stroke-width="0.5" fill="none"/>
<path d="M884.3 726.9 L897.0 709.6 L898.8 711.0 L886.1 728.3 Z" stroke="#1f1f1f" stroke-width="1.2" fill="#f4f4f4" />
<line x1="877.6" y1="715.0" x2="884.7" y2="716.8" stroke="#414d8e" stroke-width="1.1" />
<path d="M1019.2 693.8 L1033.2 678.2 L1058.6 682.8 L1044.6 699.0 Z" stroke="#1f1f1f" stroke-width="0.8" fill="#1c1c1c" />
<path d="M1026.2 686.0 L1051.6 690.9 M1031.9 696.4 L1045.9 680.5" stroke="#555" stroke-width="0.6" fill="none"/>
<path d="M1030.7 683.4 L1041.2 685.4 M1044.2 685.8 L1054.2 687.8" stroke="#777" stroke-width="0.5" fill="none"/>
<path d="M1065.3 704.8 L1078.0 687.5 L1079.8 688.9 L1067.1 706.2 Z" stroke="#1f1f1f" stroke-width="1.2" fill="#f4f4f4" />
<line x1="999.6" y1="676.5" x2="1022.5" y2="682.9" stroke="#414d8e" stroke-width="1.1" />
<line x1="1058.7" y1="692.0" x2="1065.3" y2="693.8" stroke="#414d8e" stroke-width="1.1" />
<path d="M835.2 742.1 L849.2 726.5 L874.6 731.1 L860.6 747.3 Z" stroke="#1f1f1f" stroke-width="0.8" fill="#1c1c1c" />
<path d="M842.2 734.3 L867.6 739.2 M848.0 744.7 L862.0 728.8" stroke="#555" stroke-width="0.6" fill="none"/>
<path d="M846.8 731.7 L857.2 733.7 M860.2 734.1 L870.2 736.1" stroke="#777" stroke-width="0.5" fill="none"/>
<path d="M881.4 752.3 L894.1 735.0 L895.9 736.4 L883.2 753.7 Z" stroke="#1f1f1f" stroke-width="1.2" fill="#f4f4f4" />
<line x1="874.7" y1="740.4" x2="881.8" y2="742.2" stroke="#414d8e" stroke-width="1.1" />
<path d="M1016.3 719.1 L1030.3 703.5 L1055.7 708.1 L1041.7 724.3 Z" stroke="#1f1f1f" stroke-width="0.8" fill="#1c1c1c" />
<path d="M1023.3 711.3 L1048.7 716.2 M1029.0 721.7 L1043.0 705.8" stroke="#555" stroke-width="0.6" fill="none"/>
<path d="M1027.8 708.7 L1038.3 710.7 M1041.3 711.1 L1051.3 713.1" stroke="#777" stroke-width="0.5" fill="none"/>
<path d="M1062.4 730.1 L1075.1 712.8 L1076.9 714.2 L1064.2 731.5 Z" stroke="#1f1f1f" stroke-width="1.2" fill="#f4f4f4" />
<line x1="996.6" y1="701.8" x2="1019.5" y2="708.2" stroke="#414d8e" stroke-width="1.1" />
<line x1="1055.7" y1="717.3" x2="1062.3" y2="719.1" stroke="#414d8e" stroke-width="1.1" />
<path d="M832.5 767.5 L846.5 751.9 L871.9 756.5 L857.9 772.7 Z" stroke="#1f1f1f" stroke-width="0.8" fill="#1c1c1c" />
<path d="M839.5 759.7 L864.9 764.6 M845.2 770.1 L859.2 754.2" stroke="#555" stroke-width="0.6" fill="none"/>
<path d="M844.0 757.1 L854.5 759.1 M857.5 759.5 L867.5 761.5" stroke="#777" stroke-width="0.5" fill="none"/>
<path d="M878.5 777.7 L891.2 760.4 L893.0 761.8 L880.3 779.1 Z" stroke="#1f1f1f" stroke-width="1.2" fill="#f4f4f4" />
<line x1="871.8" y1="765.8" x2="878.9" y2="767.6" stroke="#414d8e" stroke-width="1.1" />
<path d="M1013.4 744.4 L1027.4 728.8 L1052.8 733.4 L1038.8 749.6 Z" stroke="#1f1f1f" stroke-width="0.8" fill="#1c1c1c" />
<path d="M1020.4 736.6 L1045.8 741.5 M1026.1 747.0 L1040.1 731.1" stroke="#555" stroke-width="0.6" fill="none"/>
<path d="M1024.9 734.0 L1035.4 736.0 M1038.4 736.4 L1048.4 738.4" stroke="#777" stroke-width="0.5" fill="none"/>
<path d="M1059.5 755.4 L1072.2 738.1 L1074.0 739.5 L1061.3 756.8 Z" stroke="#1f1f1f" stroke-width="1.2" fill="#f4f4f4" />
<line x1="993.6" y1="727.1" x2="1016.5" y2="733.5" stroke="#414d8e" stroke-width="1.1" />
<line x1="1052.7" y1="742.6" x2="1059.3" y2="744.4" stroke="#414d8e" stroke-width="1.1" />
<path d="M829.8 792.9 L843.8 777.3 L869.1 781.9 L855.1 798.1 Z" stroke="#1f1f1f" stroke-width="0.8" fill="#1c1c1c" />
<path d="M836.8 785.1 L862.1 790.0 M842.5 795.5 L856.5 779.6" stroke="#555" stroke-width="0.6" fill="none"/>
<path d="M841.2 782.5 L851.8 784.5 M854.8 784.9 L864.8 786.9" stroke="#777" stroke-width="0.5" fill="none"/>
<path d="M875.6 803.1 L888.3 785.8 L890.1 787.2 L877.4 804.5 Z" stroke="#1f1f1f" stroke-width="1.2" fill="#f4f4f4" />
<line x1="868.9" y1="791.2" x2="876.0" y2="793.0" stroke="#414d8e" stroke-width="1.1" />
<path d="M1010.5 769.7 L1024.5 754.1 L1049.9 758.7 L1035.9 774.9 Z" stroke="#1f1f1f" stroke-width="0.8" fill="#1c1c1c" />
<path d="M1017.5 761.9 L1042.9 766.8 M1023.2 772.3 L1037.2 756.4" stroke="#555" stroke-width="0.6" fill="none"/>
<path d="M1022.0 759.3 L1032.5 761.3 M1035.5 761.7 L1045.5 763.7" stroke="#777" stroke-width="0.5" fill="none"/>
<path d="M1056.6 780.7 L1069.3 763.4 L1071.1 764.8 L1058.4 782.1 Z" stroke="#1f1f1f" stroke-width="1.2" fill="#f4f4f4" />
<line x1="990.6" y1="752.4" x2="1013.5" y2="758.8" stroke="#414d8e" stroke-width="1.1" />
<line x1="1049.7" y1="767.9" x2="1056.3" y2="769.7" stroke="#414d8e" stroke-width="1.1" />
<circle cx="1048.0" cy="662.0" r="8.0" fill="none" stroke="#434c84" stroke-width="1.15"/>
<text transform="translate(1048.0 666.4) scale(0.95 1)" x="0" y="0" text-anchor="middle" font-size="13.4" fill="#2a2a2a">18</text>
<circle cx="1069.1" cy="674.7" r="8.0" fill="none" stroke="#434c84" stroke-width="1.15"/>
<text transform="translate(1069.1 679.1) scale(0.95 1)" x="0" y="0" text-anchor="middle" font-size="13.4" fill="#2a2a2a">19</text>
</svg>
</body></html>
